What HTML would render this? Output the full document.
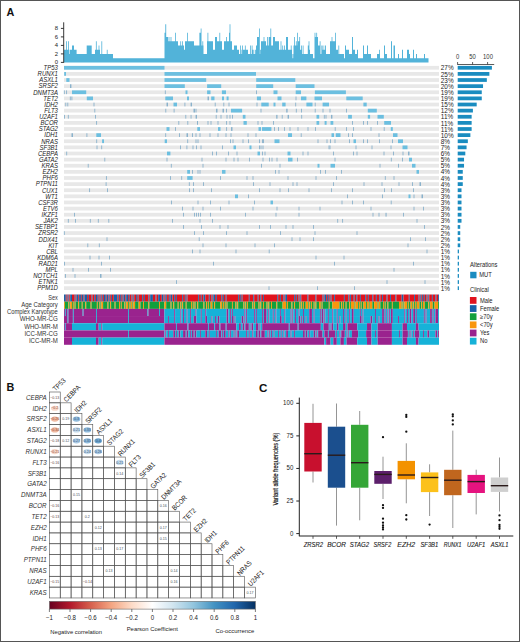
<!DOCTYPE html><html><head><meta charset="utf-8"><style>html,body{margin:0;padding:0;background:#fff;}svg{display:block;}</style></head><body>
<svg width="520" height="642" viewBox="0 0 520 642" font-family='"Liberation Sans", sans-serif'>
<rect x="0" y="0" width="520" height="642" fill="#fff"/>
<text x="6.6" y="15.6" font-size="10.8" text-anchor="start" fill="#111" font-weight="bold">A</text>
<path d="M64,62.4L64,49.65L66.1,49.65L66.1,41.15L66.9,41.15L66.9,49.65L68,49.65L68,41.15L68.8,41.15L68.8,49.65L69.4,49.65L69.4,53.9L70,53.9L70,49.65L72,49.65L72,45.4L74,45.4L74,49.65L76.6,49.65L76.6,53.9L86.7,53.9L86.7,45.4L91.7,45.4L91.7,53.9L95,53.9L95,49.65L95.9,49.65L95.9,41.15L96.7,41.15L96.7,49.65L98.6,49.65L98.6,45.4L99.4,45.4L99.4,49.65L100,49.65L100,53.9L101.4,53.9L101.4,41.15L102.2,41.15L102.2,53.9L106.8,53.9L106.8,49.65L107.6,49.65L107.6,53.9L113,53.9L113,58.15L164.5,58.15L164.5,32.65L165.3,32.65L165.3,24.15L166.2,24.15L166.2,36.9L168,36.9L168,41.15L168.6,41.15L168.6,36.9L169.4,36.9L169.4,41.15L170.6,41.15L170.6,36.9L171.4,36.9L171.4,41.15L172,41.15L172,41.15L175.2,41.15L175.2,32.65L176,32.65L176,41.15L178,41.15L178,45.4L180.3,45.4L180.3,41.15L181.1,41.15L181.1,45.4L182,45.4L182,41.15L182.8,41.15L182.8,45.4L184,45.4L184,49.65L185,49.65L185,41.15L187.1,41.15L187.1,32.65L187.9,32.65L187.9,41.15L194,41.15L194,45.4L199.4,45.4L199.4,32.65L200.7,32.65L200.7,28.4L200.9,28.4L200.9,28.4L201.5,28.4L201.5,45.4L202.4,45.4L202.4,41.15L203.2,41.15L203.2,45.4L203.5,45.4L203.5,53.9L207,53.9L207,41.15L207.5,41.15L207.5,32.65L208.3,32.65L208.3,41.15L213,41.15L213,49.65L215,49.65L215,36.9L217,36.9L217,41.15L219.4,41.15L219.4,32.65L220.2,32.65L220.2,41.15L222,41.15L222,49.65L224,49.65L224,41.15L226.2,41.15L226.2,36.9L227,36.9L227,41.15L229,41.15L229,32.65L229.6,32.65L229.6,24.15L230,24.15L230,24.15L230.4,24.15L230.4,41.15L232,41.15L232,49.65L234,49.65L234,45.4L237,45.4L237,49.65L239,49.65L239,53.9L240.1,53.9L240.1,45.4L240.9,45.4L240.9,53.9L241.5,53.9L241.5,49.65L242.1,49.65L242.1,45.4L242.3,45.4L242.3,45.4L242.9,45.4L242.9,53.9L243,53.9L243,49.65L244.9,49.65L244.9,45.4L245.7,45.4L245.7,49.65L248,49.65L248,53.9L250,53.9L250,45.4L250.8,45.4L250.8,53.9L251.7,53.9L251.7,45.4L252,45.4L252,45.4L252.5,45.4L252.5,49.65L253,49.65L253,53.9L253.4,53.9L253.4,49.65L254.2,49.65L254.2,53.9L255.1,53.9L255.1,49.65L255.9,49.65L255.9,53.9L256,53.9L256,45.4L257,45.4L257,36.9L259,36.9L259,28.4L259.8,28.4L259.8,53.9L260.2,53.9L260.2,49.65L261,49.65L261,53.9L261,53.9L261,41.15L263.6,41.15L263.6,36.9L264.4,36.9L264.4,41.15L266,41.15L266,45.4L267,45.4L267,36.9L267.8,36.9L267.8,45.4L268.7,45.4L268.7,36.9L269,36.9L269,36.9L269.5,36.9L269.5,36.9L270.4,36.9L270.4,28.4L271,28.4L271,28.4L271.2,28.4L271.2,45.4L273,45.4L273,36.9L275,36.9L275,41.15L279,41.15L279,49.65L280.6,49.65L280.6,41.15L281.4,41.15L281.4,49.65L282.3,49.65L282.3,45.4L283.1,45.4L283.1,49.65L284,49.65L284,45.4L284.8,45.4L284.8,49.65L286,49.65L286,36.9L288,36.9L288,49.65L290.8,49.65L290.8,45.4L291.6,45.4L291.6,49.65L292,49.65L292,58.15L292.5,58.15L292.5,53.9L293.3,53.9L293.3,58.15L293.5,58.15L293.5,45.4L294.2,45.4L294.2,36.9L295,36.9L295,45.4L295.9,45.4L295.9,41.15L296,41.15L296,41.15L296.7,41.15L296.7,45.4L297.1,45.4L297.1,32.65L297.9,32.65L297.9,45.4L298,45.4L298,41.15L299.3,41.15L299.3,36.9L300,36.9L300,36.9L300.1,36.9L300.1,49.65L301.1,49.65L301.1,45.4L301.9,45.4L301.9,49.65L302,49.65L302,53.9L302.7,53.9L302.7,45.4L303.5,45.4L303.5,53.9L307.8,53.9L307.8,45.4L308,45.4L308,45.4L308.6,45.4L308.6,49.65L308.6,49.65L308.6,41.15L309.4,41.15L309.4,49.65L310,49.65L310,53.9L313,53.9L313,58.15L314.5,58.15L314.5,36.9L314.6,36.9L314.6,32.65L315.4,32.65L315.4,36.9L316.3,36.9L316.3,32.65L317.1,32.65L317.1,36.9L318,36.9L318,45.4L319.7,45.4L319.7,41.15L320,41.15L320,41.15L320.5,41.15L320.5,53.9L321.4,53.9L321.4,45.4L322,45.4L322,45.4L322.2,45.4L322.2,49.65L322.6,49.65L322.6,45.4L323.4,45.4L323.4,49.65L324.8,49.65L324.8,45.4L325.1,45.4L325.1,45.4L325.6,45.4L325.6,45.4L325.9,45.4L325.9,49.65L326,49.65L326,53.9L330,53.9L330,41.15L331.6,41.15L331.6,36.9L332.4,36.9L332.4,41.15L335,41.15L335,32.65L335.8,32.65L335.8,41.15L336,41.15L336,49.65L338,49.65L338,53.9L338.4,53.9L338.4,45.4L339.2,45.4L339.2,53.9L344,53.9L344,58.15L345,58.15L345,45.4L346,45.4L346,49.65L349,49.65L349,53.9L352,53.9L352,36.9L353,36.9L353,49.65L355,49.65L355,53.9L357,53.9L357,49.65L358,49.65L358,58.15L363,58.15L363,45.4L364,45.4L364,53.9L367,53.9L367,45.4L368,45.4L368,53.9L371,53.9L371,58.15L377,58.15L377,53.9L379.1,53.9L379.1,49.65L379.9,49.65L379.9,53.9L380,53.9L380,58.15L384,58.15L384,45.4L385,45.4L385,53.9L387,53.9L387,58.15L391,58.15L391,41.15L392,41.15L392,58.15L393.5,58.15L393.5,45.4L395,45.4L395,58.15L398,58.15L398,53.9L399,53.9L399,58.15L402,58.15L402,49.65L403,49.65L403,58.15L407,58.15L407,49.65L409,49.65L409,53.9L410,53.9L410,58.15L413,58.15L413,49.65L414,49.65L414,58.15L416,58.15L416,53.9L417,53.9L417,58.15L424,58.15L424,53.9L425,53.9L425,58.15L428.5,58.15L428.5,62.4Z" fill="#52b3d9"/>
<g stroke="#222" stroke-width="0.9">
<line x1="63.7" y1="22.3" x2="63.7" y2="62.8"/>
<line x1="60.9" y1="62.4" x2="63.7" y2="62.4"/>
<line x1="60.9" y1="53.9" x2="63.7" y2="53.9"/>
<line x1="60.9" y1="45.4" x2="63.7" y2="45.4"/>
<line x1="60.9" y1="36.9" x2="63.7" y2="36.9"/>
<line x1="60.9" y1="28.4" x2="63.7" y2="28.4"/>
</g>
<text x="58" y="64" font-size="6.2" text-anchor="end" fill="#222" textLength="3.28" lengthAdjust="spacingAndGlyphs">0</text>
<text x="58" y="55.5" font-size="6.2" text-anchor="end" fill="#222" textLength="3.28" lengthAdjust="spacingAndGlyphs">2</text>
<text x="58" y="47" font-size="6.2" text-anchor="end" fill="#222" textLength="3.28" lengthAdjust="spacingAndGlyphs">4</text>
<text x="58" y="38.5" font-size="6.2" text-anchor="end" fill="#222" textLength="3.28" lengthAdjust="spacingAndGlyphs">6</text>
<text x="58" y="30" font-size="6.2" text-anchor="end" fill="#222" textLength="3.28" lengthAdjust="spacingAndGlyphs">8</text>
<g fill="#e8e8e8">
<rect x="64" y="65.9" width="375" height="3.75"/>
<rect x="64" y="72.02" width="375" height="3.75"/>
<rect x="64" y="78.14" width="375" height="3.75"/>
<rect x="64" y="84.27" width="375" height="3.75"/>
<rect x="64" y="90.39" width="375" height="3.75"/>
<rect x="64" y="96.51" width="375" height="3.75"/>
<rect x="64" y="102.63" width="375" height="3.75"/>
<rect x="64" y="108.75" width="375" height="3.75"/>
<rect x="64" y="114.88" width="375" height="3.75"/>
<rect x="64" y="121" width="375" height="3.75"/>
<rect x="64" y="127.12" width="375" height="3.75"/>
<rect x="64" y="133.24" width="375" height="3.75"/>
<rect x="64" y="139.36" width="375" height="3.75"/>
<rect x="64" y="145.49" width="375" height="3.75"/>
<rect x="64" y="151.61" width="375" height="3.75"/>
<rect x="64" y="157.73" width="375" height="3.75"/>
<rect x="64" y="163.85" width="375" height="3.75"/>
<rect x="64" y="169.97" width="375" height="3.75"/>
<rect x="64" y="176.1" width="375" height="3.75"/>
<rect x="64" y="182.22" width="375" height="3.75"/>
<rect x="64" y="188.34" width="375" height="3.75"/>
<rect x="64" y="194.46" width="375" height="3.75"/>
<rect x="64" y="200.58" width="375" height="3.75"/>
<rect x="64" y="206.71" width="375" height="3.75"/>
<rect x="64" y="212.83" width="375" height="3.75"/>
<rect x="64" y="218.95" width="375" height="3.75"/>
<rect x="64" y="225.07" width="375" height="3.75"/>
<rect x="64" y="231.19" width="375" height="3.75"/>
<rect x="64" y="237.32" width="375" height="3.75"/>
<rect x="64" y="243.44" width="375" height="3.75"/>
<rect x="64" y="249.56" width="375" height="3.75"/>
<rect x="64" y="255.68" width="375" height="3.75"/>
<rect x="64" y="261.8" width="375" height="3.75"/>
<rect x="64" y="267.93" width="375" height="3.75"/>
<rect x="64" y="274.05" width="375" height="3.75"/>
<rect x="64" y="280.17" width="375" height="3.75"/>
<rect x="64" y="286.29" width="375" height="3.75"/>
</g>
<rect x="64" y="65.9" width="100.5" height="3.75" fill="#6cbfe0"/>
<rect x="64.2" y="72.02" width="1.8" height="3.75" fill="#6cbfe0"/>
<rect x="164.5" y="72.02" width="91.5" height="3.75" fill="#6cbfe0"/>
<rect x="66.3" y="78.14" width="3.2" height="3.75" fill="#6cbfe0"/>
<rect x="164.5" y="78.14" width="41.7" height="3.75" fill="#6cbfe0"/>
<rect x="256.2" y="78.14" width="39.1" height="3.75" fill="#6cbfe0"/>
<rect x="70" y="84.27" width="1.4" height="3.75" fill="#8ab2cc"/>
<rect x="164.5" y="84.27" width="20.3" height="3.75" fill="#6cbfe0"/>
<rect x="207.1" y="84.27" width="14.1" height="3.75" fill="#6cbfe0"/>
<rect x="256.2" y="84.27" width="17" height="3.75" fill="#6cbfe0"/>
<rect x="295.7" y="84.27" width="18.8" height="3.75" fill="#6cbfe0"/>
<rect x="63.85" y="90.39" width="0.9" height="3.75" fill="#8ab2cc"/>
<rect x="66.15" y="90.39" width="0.9" height="3.75" fill="#8ab2cc"/>
<rect x="72" y="90.39" width="14.2" height="3.75" fill="#6cbfe0"/>
<rect x="164.85" y="90.39" width="0.9" height="3.75" fill="#8ab2cc"/>
<rect x="185.5" y="90.39" width="2" height="3.75" fill="#6cbfe0"/>
<rect x="207.1" y="90.39" width="3.4" height="3.75" fill="#6cbfe0"/>
<rect x="221.9" y="90.39" width="4.1" height="3.75" fill="#6cbfe0"/>
<rect x="256.05" y="90.39" width="0.9" height="3.75" fill="#8ab2cc"/>
<rect x="273.5" y="90.39" width="4" height="3.75" fill="#6cbfe0"/>
<rect x="295.7" y="90.39" width="5.3" height="3.75" fill="#6cbfe0"/>
<rect x="314.9" y="90.39" width="31" height="3.75" fill="#6cbfe0"/>
<rect x="69.85" y="96.51" width="0.9" height="3.75" fill="#8ab2cc"/>
<rect x="71.45" y="96.51" width="0.9" height="3.75" fill="#8ab2cc"/>
<rect x="86.8" y="96.51" width="6.2" height="3.75" fill="#6cbfe0"/>
<rect x="165.3" y="96.51" width="7.7" height="3.75" fill="#6cbfe0"/>
<rect x="187" y="96.51" width="2" height="3.75" fill="#6cbfe0"/>
<rect x="207.5" y="96.51" width="1.5" height="3.75" fill="#8ab2cc"/>
<rect x="211.2" y="96.51" width="3.3" height="3.75" fill="#6cbfe0"/>
<rect x="222" y="96.51" width="2" height="3.75" fill="#6cbfe0"/>
<rect x="226.6" y="96.51" width="2" height="3.75" fill="#6cbfe0"/>
<rect x="256.9" y="96.51" width="4.1" height="3.75" fill="#6cbfe0"/>
<rect x="277.5" y="96.51" width="4" height="3.75" fill="#6cbfe0"/>
<rect x="295.55" y="96.51" width="0.9" height="3.75" fill="#8ab2cc"/>
<rect x="301" y="96.51" width="5.4" height="3.75" fill="#6cbfe0"/>
<rect x="314.5" y="96.51" width="7.5" height="3.75" fill="#6cbfe0"/>
<rect x="346.3" y="96.51" width="16.4" height="3.75" fill="#6cbfe0"/>
<rect x="65.35" y="102.63" width="0.9" height="3.75" fill="#8ab2cc"/>
<rect x="67.35" y="102.63" width="0.9" height="3.75" fill="#8ab2cc"/>
<rect x="93.55" y="102.63" width="0.9" height="3.75" fill="#8ab2cc"/>
<rect x="166.5" y="102.63" width="1.5" height="3.75" fill="#8ab2cc"/>
<rect x="173.5" y="102.63" width="3.5" height="3.75" fill="#6cbfe0"/>
<rect x="184.45" y="102.63" width="0.9" height="3.75" fill="#8ab2cc"/>
<rect x="190.6" y="102.63" width="1.4" height="3.75" fill="#8ab2cc"/>
<rect x="214.75" y="102.63" width="0.9" height="3.75" fill="#8ab2cc"/>
<rect x="223.35" y="102.63" width="0.9" height="3.75" fill="#8ab2cc"/>
<rect x="228.55" y="102.63" width="0.9" height="3.75" fill="#8ab2cc"/>
<rect x="256.55" y="102.63" width="0.9" height="3.75" fill="#8ab2cc"/>
<rect x="261.3" y="102.63" width="7.4" height="3.75" fill="#6cbfe0"/>
<rect x="273.5" y="102.63" width="2" height="3.75" fill="#6cbfe0"/>
<rect x="282.2" y="102.63" width="3.4" height="3.75" fill="#6cbfe0"/>
<rect x="295.25" y="102.63" width="0.9" height="3.75" fill="#8ab2cc"/>
<rect x="306.4" y="102.63" width="6.1" height="3.75" fill="#6cbfe0"/>
<rect x="314.75" y="102.63" width="0.9" height="3.75" fill="#8ab2cc"/>
<rect x="322.6" y="102.63" width="6.4" height="3.75" fill="#6cbfe0"/>
<rect x="363.4" y="102.63" width="3.3" height="3.75" fill="#6cbfe0"/>
<rect x="94.35" y="108.75" width="0.9" height="3.75" fill="#8ab2cc"/>
<rect x="165.35" y="108.75" width="0.9" height="3.75" fill="#8ab2cc"/>
<rect x="173.65" y="108.75" width="0.9" height="3.75" fill="#8ab2cc"/>
<rect x="193.5" y="108.75" width="1.5" height="3.75" fill="#8ab2cc"/>
<rect x="195.55" y="108.75" width="0.9" height="3.75" fill="#8ab2cc"/>
<rect x="216" y="108.75" width="1.5" height="3.75" fill="#8ab2cc"/>
<rect x="222.5" y="108.75" width="1.5" height="3.75" fill="#8ab2cc"/>
<rect x="226.05" y="108.75" width="0.9" height="3.75" fill="#8ab2cc"/>
<rect x="231" y="108.75" width="11.1" height="3.75" fill="#6cbfe0"/>
<rect x="260.55" y="108.75" width="0.9" height="3.75" fill="#8ab2cc"/>
<rect x="286.2" y="108.75" width="1.4" height="3.75" fill="#8ab2cc"/>
<rect x="295.85" y="108.75" width="0.9" height="3.75" fill="#8ab2cc"/>
<rect x="301.05" y="108.75" width="0.9" height="3.75" fill="#8ab2cc"/>
<rect x="314.75" y="108.75" width="0.9" height="3.75" fill="#8ab2cc"/>
<rect x="322.55" y="108.75" width="0.9" height="3.75" fill="#8ab2cc"/>
<rect x="329.55" y="108.75" width="0.9" height="3.75" fill="#8ab2cc"/>
<rect x="346.05" y="108.75" width="0.9" height="3.75" fill="#8ab2cc"/>
<rect x="367.8" y="108.75" width="9" height="3.75" fill="#6cbfe0"/>
<rect x="64.05" y="114.88" width="0.9" height="3.75" fill="#8ab2cc"/>
<rect x="67.85" y="114.88" width="0.9" height="3.75" fill="#8ab2cc"/>
<rect x="95.05" y="114.88" width="0.9" height="3.75" fill="#8ab2cc"/>
<rect x="185.35" y="114.88" width="0.9" height="3.75" fill="#8ab2cc"/>
<rect x="190.6" y="114.88" width="0.9" height="3.75" fill="#8ab2cc"/>
<rect x="195.6" y="114.88" width="1.4" height="3.75" fill="#8ab2cc"/>
<rect x="215.75" y="114.88" width="0.9" height="3.75" fill="#8ab2cc"/>
<rect x="220.55" y="114.88" width="0.9" height="3.75" fill="#8ab2cc"/>
<rect x="226.55" y="114.88" width="0.9" height="3.75" fill="#8ab2cc"/>
<rect x="229.55" y="114.88" width="0.9" height="3.75" fill="#8ab2cc"/>
<rect x="232.05" y="114.88" width="0.9" height="3.75" fill="#8ab2cc"/>
<rect x="242.8" y="114.88" width="2.7" height="3.75" fill="#6cbfe0"/>
<rect x="276.2" y="114.88" width="1.3" height="3.75" fill="#8ab2cc"/>
<rect x="281.75" y="114.88" width="0.9" height="3.75" fill="#8ab2cc"/>
<rect x="287.6" y="114.88" width="1.4" height="3.75" fill="#8ab2cc"/>
<rect x="301.25" y="114.88" width="0.9" height="3.75" fill="#8ab2cc"/>
<rect x="316.5" y="114.88" width="2.7" height="3.75" fill="#6cbfe0"/>
<rect x="323.85" y="114.88" width="0.9" height="3.75" fill="#8ab2cc"/>
<rect x="325.55" y="114.88" width="0.9" height="3.75" fill="#8ab2cc"/>
<rect x="331" y="114.88" width="1.4" height="3.75" fill="#8ab2cc"/>
<rect x="348.1" y="114.88" width="3.8" height="3.75" fill="#6cbfe0"/>
<rect x="367.8" y="114.88" width="2.3" height="3.75" fill="#6cbfe0"/>
<rect x="377.5" y="114.88" width="6.3" height="3.75" fill="#6cbfe0"/>
<rect x="96.15" y="121" width="0.9" height="3.75" fill="#8ab2cc"/>
<rect x="178.35" y="121" width="0.9" height="3.75" fill="#8ab2cc"/>
<rect x="187.35" y="121" width="0.9" height="3.75" fill="#8ab2cc"/>
<rect x="197" y="121" width="1" height="3.75" fill="#8ab2cc"/>
<rect x="207.55" y="121" width="0.9" height="3.75" fill="#8ab2cc"/>
<rect x="210.55" y="121" width="0.9" height="3.75" fill="#8ab2cc"/>
<rect x="217.55" y="121" width="0.9" height="3.75" fill="#8ab2cc"/>
<rect x="226.15" y="121" width="0.9" height="3.75" fill="#8ab2cc"/>
<rect x="229.55" y="121" width="0.9" height="3.75" fill="#8ab2cc"/>
<rect x="243.5" y="121" width="3.3" height="3.75" fill="#6cbfe0"/>
<rect x="257.55" y="121" width="0.9" height="3.75" fill="#8ab2cc"/>
<rect x="261.55" y="121" width="0.9" height="3.75" fill="#8ab2cc"/>
<rect x="273.05" y="121" width="0.9" height="3.75" fill="#8ab2cc"/>
<rect x="316.5" y="121" width="2.7" height="3.75" fill="#6cbfe0"/>
<rect x="324.6" y="121" width="2" height="3.75" fill="#6cbfe0"/>
<rect x="330.5" y="121" width="2.8" height="3.75" fill="#6cbfe0"/>
<rect x="352.05" y="121" width="0.9" height="3.75" fill="#8ab2cc"/>
<rect x="363.05" y="121" width="0.9" height="3.75" fill="#8ab2cc"/>
<rect x="367.05" y="121" width="0.9" height="3.75" fill="#8ab2cc"/>
<rect x="377.05" y="121" width="0.9" height="3.75" fill="#8ab2cc"/>
<rect x="384.2" y="121" width="6.8" height="3.75" fill="#6cbfe0"/>
<rect x="166.5" y="127.12" width="3" height="3.75" fill="#6cbfe0"/>
<rect x="175.05" y="127.12" width="0.9" height="3.75" fill="#8ab2cc"/>
<rect x="197.3" y="127.12" width="2.7" height="3.75" fill="#6cbfe0"/>
<rect x="218" y="127.12" width="2.5" height="3.75" fill="#6cbfe0"/>
<rect x="226.15" y="127.12" width="0.9" height="3.75" fill="#8ab2cc"/>
<rect x="231" y="127.12" width="1.5" height="3.75" fill="#8ab2cc"/>
<rect x="258.5" y="127.12" width="2.5" height="3.75" fill="#6cbfe0"/>
<rect x="262" y="127.12" width="9.4" height="3.75" fill="#6cbfe0"/>
<rect x="274.05" y="127.12" width="0.9" height="3.75" fill="#8ab2cc"/>
<rect x="278.05" y="127.12" width="0.9" height="3.75" fill="#8ab2cc"/>
<rect x="284.05" y="127.12" width="0.9" height="3.75" fill="#8ab2cc"/>
<rect x="289.55" y="127.12" width="0.9" height="3.75" fill="#8ab2cc"/>
<rect x="297.55" y="127.12" width="0.9" height="3.75" fill="#8ab2cc"/>
<rect x="307.55" y="127.12" width="0.9" height="3.75" fill="#8ab2cc"/>
<rect x="315.05" y="127.12" width="0.9" height="3.75" fill="#8ab2cc"/>
<rect x="334.75" y="127.12" width="0.9" height="3.75" fill="#8ab2cc"/>
<rect x="346.05" y="127.12" width="0.9" height="3.75" fill="#8ab2cc"/>
<rect x="353.05" y="127.12" width="0.9" height="3.75" fill="#8ab2cc"/>
<rect x="370.55" y="127.12" width="0.9" height="3.75" fill="#8ab2cc"/>
<rect x="383.75" y="127.12" width="0.9" height="3.75" fill="#8ab2cc"/>
<rect x="390.8" y="127.12" width="2" height="3.75" fill="#6cbfe0"/>
<rect x="71.5" y="133.24" width="1.5" height="3.75" fill="#8ab2cc"/>
<rect x="86.45" y="133.24" width="0.9" height="3.75" fill="#8ab2cc"/>
<rect x="96.3" y="133.24" width="4.7" height="3.75" fill="#6cbfe0"/>
<rect x="165.25" y="133.24" width="0.9" height="3.75" fill="#8ab2cc"/>
<rect x="179.05" y="133.24" width="0.9" height="3.75" fill="#8ab2cc"/>
<rect x="186.5" y="133.24" width="1.5" height="3.75" fill="#8ab2cc"/>
<rect x="192.05" y="133.24" width="0.9" height="3.75" fill="#8ab2cc"/>
<rect x="195.55" y="133.24" width="0.9" height="3.75" fill="#8ab2cc"/>
<rect x="199.55" y="133.24" width="0.9" height="3.75" fill="#8ab2cc"/>
<rect x="209.55" y="133.24" width="0.9" height="3.75" fill="#8ab2cc"/>
<rect x="217.55" y="133.24" width="0.9" height="3.75" fill="#8ab2cc"/>
<rect x="225.55" y="133.24" width="0.9" height="3.75" fill="#8ab2cc"/>
<rect x="230.55" y="133.24" width="0.9" height="3.75" fill="#8ab2cc"/>
<rect x="247.55" y="133.24" width="0.9" height="3.75" fill="#8ab2cc"/>
<rect x="255.55" y="133.24" width="0.9" height="3.75" fill="#8ab2cc"/>
<rect x="288" y="133.24" width="4" height="3.75" fill="#6cbfe0"/>
<rect x="300.75" y="133.24" width="0.9" height="3.75" fill="#8ab2cc"/>
<rect x="331.5" y="133.24" width="2.5" height="3.75" fill="#6cbfe0"/>
<rect x="335.8" y="133.24" width="4.7" height="3.75" fill="#6cbfe0"/>
<rect x="348.05" y="133.24" width="0.9" height="3.75" fill="#8ab2cc"/>
<rect x="352.05" y="133.24" width="0.9" height="3.75" fill="#8ab2cc"/>
<rect x="378.55" y="133.24" width="0.9" height="3.75" fill="#8ab2cc"/>
<rect x="393" y="133.24" width="4.5" height="3.75" fill="#6cbfe0"/>
<rect x="96.25" y="139.36" width="0.9" height="3.75" fill="#8ab2cc"/>
<rect x="102.1" y="139.36" width="1.9" height="3.75" fill="#6cbfe0"/>
<rect x="164.7" y="139.36" width="2.3" height="3.75" fill="#6cbfe0"/>
<rect x="187.25" y="139.36" width="0.9" height="3.75" fill="#8ab2cc"/>
<rect x="195.55" y="139.36" width="0.9" height="3.75" fill="#8ab2cc"/>
<rect x="197.55" y="139.36" width="0.9" height="3.75" fill="#8ab2cc"/>
<rect x="230.05" y="139.36" width="0.9" height="3.75" fill="#8ab2cc"/>
<rect x="232.55" y="139.36" width="0.9" height="3.75" fill="#8ab2cc"/>
<rect x="242.55" y="139.36" width="0.9" height="3.75" fill="#8ab2cc"/>
<rect x="248.05" y="139.36" width="0.9" height="3.75" fill="#8ab2cc"/>
<rect x="259.05" y="139.36" width="0.9" height="3.75" fill="#8ab2cc"/>
<rect x="262.05" y="139.36" width="0.9" height="3.75" fill="#8ab2cc"/>
<rect x="263.05" y="139.36" width="0.9" height="3.75" fill="#8ab2cc"/>
<rect x="274.5" y="139.36" width="5" height="3.75" fill="#6cbfe0"/>
<rect x="317.55" y="139.36" width="0.9" height="3.75" fill="#8ab2cc"/>
<rect x="326.55" y="139.36" width="0.9" height="3.75" fill="#8ab2cc"/>
<rect x="330.05" y="139.36" width="0.9" height="3.75" fill="#8ab2cc"/>
<rect x="334.55" y="139.36" width="0.9" height="3.75" fill="#8ab2cc"/>
<rect x="349.05" y="139.36" width="0.9" height="3.75" fill="#8ab2cc"/>
<rect x="353.5" y="139.36" width="2.5" height="3.75" fill="#6cbfe0"/>
<rect x="363.05" y="139.36" width="0.9" height="3.75" fill="#8ab2cc"/>
<rect x="367.05" y="139.36" width="0.9" height="3.75" fill="#8ab2cc"/>
<rect x="379.05" y="139.36" width="0.9" height="3.75" fill="#8ab2cc"/>
<rect x="392.05" y="139.36" width="0.9" height="3.75" fill="#8ab2cc"/>
<rect x="398" y="139.36" width="5" height="3.75" fill="#6cbfe0"/>
<rect x="96.55" y="145.49" width="0.9" height="3.75" fill="#8ab2cc"/>
<rect x="101.25" y="145.49" width="0.9" height="3.75" fill="#8ab2cc"/>
<rect x="180.05" y="145.49" width="0.9" height="3.75" fill="#8ab2cc"/>
<rect x="186.45" y="145.49" width="0.9" height="3.75" fill="#8ab2cc"/>
<rect x="192.55" y="145.49" width="0.9" height="3.75" fill="#8ab2cc"/>
<rect x="196.05" y="145.49" width="0.9" height="3.75" fill="#8ab2cc"/>
<rect x="200.55" y="145.49" width="0.9" height="3.75" fill="#8ab2cc"/>
<rect x="222.05" y="145.49" width="0.9" height="3.75" fill="#8ab2cc"/>
<rect x="233.5" y="145.49" width="2.5" height="3.75" fill="#6cbfe0"/>
<rect x="249.5" y="145.49" width="2" height="3.75" fill="#6cbfe0"/>
<rect x="259.05" y="145.49" width="0.9" height="3.75" fill="#8ab2cc"/>
<rect x="260.55" y="145.49" width="0.9" height="3.75" fill="#8ab2cc"/>
<rect x="262.55" y="145.49" width="0.9" height="3.75" fill="#8ab2cc"/>
<rect x="328.55" y="145.49" width="0.9" height="3.75" fill="#8ab2cc"/>
<rect x="329.55" y="145.49" width="0.9" height="3.75" fill="#8ab2cc"/>
<rect x="355.55" y="145.49" width="0.9" height="3.75" fill="#8ab2cc"/>
<rect x="371.55" y="145.49" width="0.9" height="3.75" fill="#8ab2cc"/>
<rect x="390.55" y="145.49" width="0.9" height="3.75" fill="#8ab2cc"/>
<rect x="402.5" y="145.49" width="5" height="3.75" fill="#6cbfe0"/>
<rect x="66.25" y="151.61" width="0.9" height="3.75" fill="#8ab2cc"/>
<rect x="167" y="151.61" width="3.4" height="3.75" fill="#6cbfe0"/>
<rect x="212.05" y="151.61" width="0.9" height="3.75" fill="#8ab2cc"/>
<rect x="216.05" y="151.61" width="0.9" height="3.75" fill="#8ab2cc"/>
<rect x="228.05" y="151.61" width="0.9" height="3.75" fill="#8ab2cc"/>
<rect x="236.55" y="151.61" width="0.9" height="3.75" fill="#8ab2cc"/>
<rect x="257.5" y="151.61" width="2.5" height="3.75" fill="#6cbfe0"/>
<rect x="262.05" y="151.61" width="0.9" height="3.75" fill="#8ab2cc"/>
<rect x="264.55" y="151.61" width="0.9" height="3.75" fill="#8ab2cc"/>
<rect x="287.5" y="151.61" width="3" height="3.75" fill="#6cbfe0"/>
<rect x="302.55" y="151.61" width="0.9" height="3.75" fill="#8ab2cc"/>
<rect x="307.55" y="151.61" width="0.9" height="3.75" fill="#8ab2cc"/>
<rect x="333.05" y="151.61" width="0.9" height="3.75" fill="#8ab2cc"/>
<rect x="353.05" y="151.61" width="0.9" height="3.75" fill="#8ab2cc"/>
<rect x="356.55" y="151.61" width="0.9" height="3.75" fill="#8ab2cc"/>
<rect x="383.55" y="151.61" width="0.9" height="3.75" fill="#8ab2cc"/>
<rect x="393.05" y="151.61" width="0.9" height="3.75" fill="#8ab2cc"/>
<rect x="402.55" y="151.61" width="0.9" height="3.75" fill="#8ab2cc"/>
<rect x="408" y="151.61" width="1.5" height="3.75" fill="#8ab2cc"/>
<rect x="104.35" y="157.73" width="0.9" height="3.75" fill="#8ab2cc"/>
<rect x="166.55" y="157.73" width="0.9" height="3.75" fill="#8ab2cc"/>
<rect x="201.55" y="157.73" width="0.9" height="3.75" fill="#8ab2cc"/>
<rect x="225.55" y="157.73" width="0.9" height="3.75" fill="#8ab2cc"/>
<rect x="233.55" y="157.73" width="0.9" height="3.75" fill="#8ab2cc"/>
<rect x="237.55" y="157.73" width="0.9" height="3.75" fill="#8ab2cc"/>
<rect x="249.05" y="157.73" width="0.9" height="3.75" fill="#8ab2cc"/>
<rect x="262.55" y="157.73" width="0.9" height="3.75" fill="#8ab2cc"/>
<rect x="269.05" y="157.73" width="0.9" height="3.75" fill="#8ab2cc"/>
<rect x="271.55" y="157.73" width="0.9" height="3.75" fill="#8ab2cc"/>
<rect x="276.55" y="157.73" width="0.9" height="3.75" fill="#8ab2cc"/>
<rect x="288" y="157.73" width="4.5" height="3.75" fill="#6cbfe0"/>
<rect x="297.05" y="157.73" width="0.9" height="3.75" fill="#8ab2cc"/>
<rect x="334.55" y="157.73" width="0.9" height="3.75" fill="#8ab2cc"/>
<rect x="390.85" y="157.73" width="0.9" height="3.75" fill="#8ab2cc"/>
<rect x="402.05" y="157.73" width="0.9" height="3.75" fill="#8ab2cc"/>
<rect x="409" y="157.73" width="3" height="3.75" fill="#6cbfe0"/>
<rect x="87.75" y="163.85" width="0.9" height="3.75" fill="#8ab2cc"/>
<rect x="170.85" y="163.85" width="0.9" height="3.75" fill="#8ab2cc"/>
<rect x="202.55" y="163.85" width="0.9" height="3.75" fill="#8ab2cc"/>
<rect x="261.05" y="163.85" width="0.9" height="3.75" fill="#8ab2cc"/>
<rect x="279.55" y="163.85" width="0.9" height="3.75" fill="#8ab2cc"/>
<rect x="317.5" y="163.85" width="2" height="3.75" fill="#6cbfe0"/>
<rect x="330.5" y="163.85" width="4.5" height="3.75" fill="#6cbfe0"/>
<rect x="379.55" y="163.85" width="0.9" height="3.75" fill="#8ab2cc"/>
<rect x="398.05" y="163.85" width="0.9" height="3.75" fill="#8ab2cc"/>
<rect x="412" y="163.85" width="3.5" height="3.75" fill="#6cbfe0"/>
<rect x="187.2" y="169.97" width="2.8" height="3.75" fill="#6cbfe0"/>
<rect x="192.05" y="169.97" width="0.9" height="3.75" fill="#8ab2cc"/>
<rect x="197.55" y="169.97" width="0.9" height="3.75" fill="#8ab2cc"/>
<rect x="199.55" y="169.97" width="0.9" height="3.75" fill="#8ab2cc"/>
<rect x="222" y="169.97" width="3.5" height="3.75" fill="#6cbfe0"/>
<rect x="275.05" y="169.97" width="0.9" height="3.75" fill="#8ab2cc"/>
<rect x="278.55" y="169.97" width="0.9" height="3.75" fill="#8ab2cc"/>
<rect x="320.05" y="169.97" width="0.9" height="3.75" fill="#8ab2cc"/>
<rect x="325.05" y="169.97" width="0.9" height="3.75" fill="#8ab2cc"/>
<rect x="341.05" y="169.97" width="0.9" height="3.75" fill="#8ab2cc"/>
<rect x="416.5" y="169.97" width="2.5" height="3.75" fill="#6cbfe0"/>
<rect x="105.95" y="176.1" width="0.9" height="3.75" fill="#8ab2cc"/>
<rect x="170.05" y="176.1" width="0.9" height="3.75" fill="#8ab2cc"/>
<rect x="181.25" y="176.1" width="0.9" height="3.75" fill="#8ab2cc"/>
<rect x="187.2" y="176.1" width="5.4" height="3.75" fill="#6cbfe0"/>
<rect x="220.05" y="176.1" width="0.9" height="3.75" fill="#8ab2cc"/>
<rect x="246.55" y="176.1" width="0.9" height="3.75" fill="#8ab2cc"/>
<rect x="252.55" y="176.1" width="0.9" height="3.75" fill="#8ab2cc"/>
<rect x="287.55" y="176.1" width="0.9" height="3.75" fill="#8ab2cc"/>
<rect x="315.55" y="176.1" width="0.9" height="3.75" fill="#8ab2cc"/>
<rect x="336.05" y="176.1" width="0.9" height="3.75" fill="#8ab2cc"/>
<rect x="384.85" y="176.1" width="0.9" height="3.75" fill="#8ab2cc"/>
<rect x="393.55" y="176.1" width="0.9" height="3.75" fill="#8ab2cc"/>
<rect x="105.65" y="182.22" width="0.9" height="3.75" fill="#8ab2cc"/>
<rect x="188.85" y="182.22" width="0.9" height="3.75" fill="#8ab2cc"/>
<rect x="193.05" y="182.22" width="0.9" height="3.75" fill="#8ab2cc"/>
<rect x="203.05" y="182.22" width="0.9" height="3.75" fill="#8ab2cc"/>
<rect x="253.05" y="182.22" width="0.9" height="3.75" fill="#8ab2cc"/>
<rect x="269.55" y="182.22" width="0.9" height="3.75" fill="#8ab2cc"/>
<rect x="292.55" y="182.22" width="0.9" height="3.75" fill="#8ab2cc"/>
<rect x="296.55" y="182.22" width="0.9" height="3.75" fill="#8ab2cc"/>
<rect x="333.05" y="182.22" width="0.9" height="3.75" fill="#8ab2cc"/>
<rect x="363.55" y="182.22" width="0.9" height="3.75" fill="#8ab2cc"/>
<rect x="381.55" y="182.22" width="0.9" height="3.75" fill="#8ab2cc"/>
<rect x="398.55" y="182.22" width="0.9" height="3.75" fill="#8ab2cc"/>
<rect x="412.05" y="182.22" width="0.9" height="3.75" fill="#8ab2cc"/>
<rect x="419.5" y="182.22" width="1.5" height="3.75" fill="#8ab2cc"/>
<rect x="89.15" y="188.34" width="0.9" height="3.75" fill="#8ab2cc"/>
<rect x="107.05" y="188.34" width="0.9" height="3.75" fill="#8ab2cc"/>
<rect x="189.05" y="188.34" width="0.9" height="3.75" fill="#8ab2cc"/>
<rect x="193.05" y="188.34" width="0.9" height="3.75" fill="#8ab2cc"/>
<rect x="211.05" y="188.34" width="0.9" height="3.75" fill="#8ab2cc"/>
<rect x="259.05" y="188.34" width="0.9" height="3.75" fill="#8ab2cc"/>
<rect x="279.55" y="188.34" width="0.9" height="3.75" fill="#8ab2cc"/>
<rect x="288.05" y="188.34" width="0.9" height="3.75" fill="#8ab2cc"/>
<rect x="308.55" y="188.34" width="0.9" height="3.75" fill="#8ab2cc"/>
<rect x="331.05" y="188.34" width="0.9" height="3.75" fill="#8ab2cc"/>
<rect x="352.05" y="188.34" width="0.9" height="3.75" fill="#8ab2cc"/>
<rect x="384.05" y="188.34" width="0.9" height="3.75" fill="#8ab2cc"/>
<rect x="391.05" y="188.34" width="0.9" height="3.75" fill="#8ab2cc"/>
<rect x="413.05" y="188.34" width="0.9" height="3.75" fill="#8ab2cc"/>
<rect x="235" y="194.46" width="3" height="3.75" fill="#6cbfe0"/>
<rect x="248.05" y="194.46" width="0.9" height="3.75" fill="#8ab2cc"/>
<rect x="347.05" y="194.46" width="0.9" height="3.75" fill="#8ab2cc"/>
<rect x="382.05" y="194.46" width="0.9" height="3.75" fill="#8ab2cc"/>
<rect x="408.5" y="194.46" width="2" height="3.75" fill="#6cbfe0"/>
<rect x="413.55" y="194.46" width="0.9" height="3.75" fill="#8ab2cc"/>
<rect x="421.5" y="194.46" width="1.5" height="3.75" fill="#8ab2cc"/>
<rect x="171.05" y="200.58" width="0.9" height="3.75" fill="#8ab2cc"/>
<rect x="197.55" y="200.58" width="0.9" height="3.75" fill="#8ab2cc"/>
<rect x="210.05" y="200.58" width="0.9" height="3.75" fill="#8ab2cc"/>
<rect x="228.55" y="200.58" width="0.9" height="3.75" fill="#8ab2cc"/>
<rect x="254.05" y="200.58" width="0.9" height="3.75" fill="#8ab2cc"/>
<rect x="270.5" y="200.58" width="2.5" height="3.75" fill="#6cbfe0"/>
<rect x="341.55" y="200.58" width="0.9" height="3.75" fill="#8ab2cc"/>
<rect x="352.05" y="200.58" width="0.9" height="3.75" fill="#8ab2cc"/>
<rect x="363.05" y="200.58" width="0.9" height="3.75" fill="#8ab2cc"/>
<rect x="390.75" y="200.58" width="0.9" height="3.75" fill="#8ab2cc"/>
<rect x="182.05" y="206.71" width="0.9" height="3.75" fill="#8ab2cc"/>
<rect x="192.55" y="206.71" width="0.9" height="3.75" fill="#8ab2cc"/>
<rect x="202.55" y="206.71" width="0.9" height="3.75" fill="#8ab2cc"/>
<rect x="220.05" y="206.71" width="0.9" height="3.75" fill="#8ab2cc"/>
<rect x="252.55" y="206.71" width="0.9" height="3.75" fill="#8ab2cc"/>
<rect x="276.55" y="206.71" width="0.9" height="3.75" fill="#8ab2cc"/>
<rect x="298.55" y="206.71" width="0.9" height="3.75" fill="#8ab2cc"/>
<rect x="319.55" y="206.71" width="0.9" height="3.75" fill="#8ab2cc"/>
<rect x="370.55" y="206.71" width="0.9" height="3.75" fill="#8ab2cc"/>
<rect x="413.55" y="206.71" width="0.9" height="3.75" fill="#8ab2cc"/>
<rect x="423.05" y="206.71" width="0.9" height="3.75" fill="#8ab2cc"/>
<rect x="74.05" y="212.83" width="0.9" height="3.75" fill="#8ab2cc"/>
<rect x="183.05" y="212.83" width="0.9" height="3.75" fill="#8ab2cc"/>
<rect x="194.05" y="212.83" width="0.9" height="3.75" fill="#8ab2cc"/>
<rect x="196.05" y="212.83" width="0.9" height="3.75" fill="#8ab2cc"/>
<rect x="198.05" y="212.83" width="0.9" height="3.75" fill="#8ab2cc"/>
<rect x="200.05" y="212.83" width="0.9" height="3.75" fill="#8ab2cc"/>
<rect x="210.05" y="212.83" width="0.9" height="3.75" fill="#8ab2cc"/>
<rect x="245.05" y="212.83" width="0.9" height="3.75" fill="#8ab2cc"/>
<rect x="275.55" y="212.83" width="0.9" height="3.75" fill="#8ab2cc"/>
<rect x="298.55" y="212.83" width="0.9" height="3.75" fill="#8ab2cc"/>
<rect x="372.55" y="212.83" width="0.9" height="3.75" fill="#8ab2cc"/>
<rect x="378.55" y="212.83" width="0.9" height="3.75" fill="#8ab2cc"/>
<rect x="385.5" y="212.83" width="1.1" height="3.75" fill="#8ab2cc"/>
<rect x="403.05" y="212.83" width="0.9" height="3.75" fill="#8ab2cc"/>
<rect x="67.85" y="218.95" width="0.9" height="3.75" fill="#8ab2cc"/>
<rect x="75.05" y="218.95" width="0.9" height="3.75" fill="#8ab2cc"/>
<rect x="89.85" y="218.95" width="0.9" height="3.75" fill="#8ab2cc"/>
<rect x="97.85" y="218.95" width="0.9" height="3.75" fill="#8ab2cc"/>
<rect x="108.35" y="218.95" width="0.9" height="3.75" fill="#8ab2cc"/>
<rect x="172.05" y="218.95" width="0.9" height="3.75" fill="#8ab2cc"/>
<rect x="199.55" y="218.95" width="0.9" height="3.75" fill="#8ab2cc"/>
<rect x="212.05" y="218.95" width="0.9" height="3.75" fill="#8ab2cc"/>
<rect x="337.25" y="218.95" width="0.9" height="3.75" fill="#8ab2cc"/>
<rect x="342.15" y="218.95" width="0.9" height="3.75" fill="#8ab2cc"/>
<rect x="416.55" y="218.95" width="0.9" height="3.75" fill="#8ab2cc"/>
<rect x="183.05" y="225.07" width="0.9" height="3.75" fill="#8ab2cc"/>
<rect x="201.05" y="225.07" width="0.9" height="3.75" fill="#8ab2cc"/>
<rect x="219.55" y="225.07" width="0.9" height="3.75" fill="#8ab2cc"/>
<rect x="227.55" y="225.07" width="0.9" height="3.75" fill="#8ab2cc"/>
<rect x="259.05" y="225.07" width="0.9" height="3.75" fill="#8ab2cc"/>
<rect x="270.05" y="225.07" width="0.9" height="3.75" fill="#8ab2cc"/>
<rect x="285.55" y="225.07" width="0.9" height="3.75" fill="#8ab2cc"/>
<rect x="292.55" y="225.07" width="0.9" height="3.75" fill="#8ab2cc"/>
<rect x="313.05" y="225.07" width="0.9" height="3.75" fill="#8ab2cc"/>
<rect x="424.05" y="225.07" width="0.9" height="3.75" fill="#8ab2cc"/>
<rect x="63.85" y="231.19" width="0.9" height="3.75" fill="#8ab2cc"/>
<rect x="194.05" y="231.19" width="0.9" height="3.75" fill="#8ab2cc"/>
<rect x="203.05" y="231.19" width="0.9" height="3.75" fill="#8ab2cc"/>
<rect x="226.05" y="231.19" width="0.9" height="3.75" fill="#8ab2cc"/>
<rect x="246.55" y="231.19" width="0.9" height="3.75" fill="#8ab2cc"/>
<rect x="280.05" y="231.19" width="0.9" height="3.75" fill="#8ab2cc"/>
<rect x="314.55" y="231.19" width="0.9" height="3.75" fill="#8ab2cc"/>
<rect x="356.55" y="231.19" width="0.9" height="3.75" fill="#8ab2cc"/>
<rect x="106.55" y="237.32" width="0.9" height="3.75" fill="#8ab2cc"/>
<rect x="198.75" y="237.32" width="0.9" height="3.75" fill="#8ab2cc"/>
<rect x="291.55" y="237.32" width="0.9" height="3.75" fill="#8ab2cc"/>
<rect x="299.55" y="237.32" width="0.9" height="3.75" fill="#8ab2cc"/>
<rect x="313.05" y="237.32" width="0.9" height="3.75" fill="#8ab2cc"/>
<rect x="410.05" y="237.32" width="0.9" height="3.75" fill="#8ab2cc"/>
<rect x="425.05" y="237.32" width="0.9" height="3.75" fill="#8ab2cc"/>
<rect x="87.35" y="243.44" width="0.9" height="3.75" fill="#8ab2cc"/>
<rect x="98.85" y="243.44" width="0.9" height="3.75" fill="#8ab2cc"/>
<rect x="202.55" y="243.44" width="0.9" height="3.75" fill="#8ab2cc"/>
<rect x="225.55" y="243.44" width="0.9" height="3.75" fill="#8ab2cc"/>
<rect x="254.55" y="243.44" width="0.9" height="3.75" fill="#8ab2cc"/>
<rect x="274.05" y="243.44" width="0.9" height="3.75" fill="#8ab2cc"/>
<rect x="407.55" y="243.44" width="0.9" height="3.75" fill="#8ab2cc"/>
<rect x="192.05" y="249.56" width="0.9" height="3.75" fill="#8ab2cc"/>
<rect x="199.55" y="249.56" width="0.9" height="3.75" fill="#8ab2cc"/>
<rect x="235.55" y="249.56" width="0.9" height="3.75" fill="#8ab2cc"/>
<rect x="268.75" y="249.56" width="0.9" height="3.75" fill="#8ab2cc"/>
<rect x="426.55" y="249.56" width="0.9" height="3.75" fill="#8ab2cc"/>
<rect x="89.5" y="255.68" width="1" height="3.75" fill="#8ab2cc"/>
<rect x="98.55" y="255.68" width="0.9" height="3.75" fill="#8ab2cc"/>
<rect x="109.05" y="255.68" width="0.9" height="3.75" fill="#8ab2cc"/>
<rect x="315.55" y="255.68" width="0.9" height="3.75" fill="#8ab2cc"/>
<rect x="343.55" y="255.68" width="0.9" height="3.75" fill="#8ab2cc"/>
<rect x="64.05" y="261.8" width="0.9" height="3.75" fill="#8ab2cc"/>
<rect x="101.05" y="261.8" width="0.9" height="3.75" fill="#8ab2cc"/>
<rect x="213.05" y="261.8" width="0.9" height="3.75" fill="#8ab2cc"/>
<rect x="334.05" y="261.8" width="0.9" height="3.75" fill="#8ab2cc"/>
<rect x="413.05" y="261.8" width="0.9" height="3.75" fill="#8ab2cc"/>
<rect x="72.55" y="267.93" width="0.9" height="3.75" fill="#8ab2cc"/>
<rect x="88.05" y="267.93" width="0.9" height="3.75" fill="#8ab2cc"/>
<rect x="110.05" y="267.93" width="0.9" height="3.75" fill="#8ab2cc"/>
<rect x="393.55" y="267.93" width="0.9" height="3.75" fill="#8ab2cc"/>
<rect x="65.05" y="274.05" width="0.9" height="3.75" fill="#8ab2cc"/>
<rect x="74.55" y="274.05" width="0.9" height="3.75" fill="#8ab2cc"/>
<rect x="100" y="274.05" width="1.5" height="3.75" fill="#8ab2cc"/>
<rect x="176.05" y="280.17" width="0.9" height="3.75" fill="#8ab2cc"/>
<rect x="386.55" y="280.17" width="0.9" height="3.75" fill="#8ab2cc"/>
<rect x="424.55" y="280.17" width="0.9" height="3.75" fill="#8ab2cc"/>
<rect x="268.55" y="286.29" width="0.9" height="3.75" fill="#8ab2cc"/>
<rect x="317.05" y="286.29" width="0.9" height="3.75" fill="#8ab2cc"/>
<rect x="354.05" y="286.29" width="0.9" height="3.75" fill="#8ab2cc"/>
<text x="57.9" y="70.1" font-size="6.7" text-anchor="end" fill="#222" font-style="italic" textLength="14.34" lengthAdjust="spacingAndGlyphs">TP53</text>
<text x="57.9" y="76.22" font-size="6.7" text-anchor="end" fill="#222" font-style="italic" textLength="20.34" lengthAdjust="spacingAndGlyphs">RUNX1</text>
<text x="57.9" y="82.34" font-size="6.7" text-anchor="end" fill="#222" font-style="italic" textLength="18.68" lengthAdjust="spacingAndGlyphs">ASXL1</text>
<text x="57.9" y="88.47" font-size="6.7" text-anchor="end" fill="#222" font-style="italic" textLength="19.34" lengthAdjust="spacingAndGlyphs">SRSF2</text>
<text x="57.9" y="94.59" font-size="6.7" text-anchor="end" fill="#222" font-style="italic" textLength="24.67" lengthAdjust="spacingAndGlyphs">DNMT3A</text>
<text x="57.9" y="100.71" font-size="6.7" text-anchor="end" fill="#222" font-style="italic" textLength="14.67" lengthAdjust="spacingAndGlyphs">TET2</text>
<text x="57.9" y="106.83" font-size="6.7" text-anchor="end" fill="#222" font-style="italic" textLength="13.67" lengthAdjust="spacingAndGlyphs">IDH2</text>
<text x="57.9" y="112.95" font-size="6.7" text-anchor="end" fill="#222" font-style="italic" textLength="13.56" lengthAdjust="spacingAndGlyphs">FLT3</text>
<text x="57.9" y="119.08" font-size="6.7" text-anchor="end" fill="#222" font-style="italic" textLength="18.67" lengthAdjust="spacingAndGlyphs">U2AF1</text>
<text x="57.9" y="125.2" font-size="6.7" text-anchor="end" fill="#222" font-style="italic" textLength="17.34" lengthAdjust="spacingAndGlyphs">BCOR</text>
<text x="57.9" y="131.32" font-size="6.7" text-anchor="end" fill="#222" font-style="italic" textLength="19.23" lengthAdjust="spacingAndGlyphs">STAG2</text>
<text x="57.9" y="137.44" font-size="6.7" text-anchor="end" fill="#222" font-style="italic" textLength="13.67" lengthAdjust="spacingAndGlyphs">IDH1</text>
<text x="57.9" y="143.56" font-size="6.7" text-anchor="end" fill="#222" font-style="italic" textLength="16.67" lengthAdjust="spacingAndGlyphs">NRAS</text>
<text x="57.9" y="149.69" font-size="6.7" text-anchor="end" fill="#222" font-style="italic" textLength="18.34" lengthAdjust="spacingAndGlyphs">SF3B1</text>
<text x="57.9" y="155.81" font-size="6.7" text-anchor="end" fill="#222" font-style="italic" textLength="19.9" lengthAdjust="spacingAndGlyphs">CEBPA</text>
<text x="57.9" y="161.93" font-size="6.7" text-anchor="end" fill="#222" font-style="italic" textLength="18.78" lengthAdjust="spacingAndGlyphs">GATA2</text>
<text x="57.9" y="168.05" font-size="6.7" text-anchor="end" fill="#222" font-style="italic" textLength="16.34" lengthAdjust="spacingAndGlyphs">KRAS</text>
<text x="57.9" y="174.17" font-size="6.7" text-anchor="end" fill="#222" font-style="italic" textLength="15.34" lengthAdjust="spacingAndGlyphs">EZH2</text>
<text x="57.9" y="180.3" font-size="6.7" text-anchor="end" fill="#222" font-style="italic" textLength="15.34" lengthAdjust="spacingAndGlyphs">PHF6</text>
<text x="57.9" y="186.42" font-size="6.7" text-anchor="end" fill="#222" font-style="italic" textLength="22.23" lengthAdjust="spacingAndGlyphs">PTPN11</text>
<text x="57.9" y="192.54" font-size="6.7" text-anchor="end" fill="#222" font-style="italic" textLength="16" lengthAdjust="spacingAndGlyphs">CUX1</text>
<text x="57.9" y="198.66" font-size="6.7" text-anchor="end" fill="#222" font-style="italic" textLength="12.66" lengthAdjust="spacingAndGlyphs">WT1</text>
<text x="57.9" y="204.78" font-size="6.7" text-anchor="end" fill="#222" font-style="italic" textLength="19.67" lengthAdjust="spacingAndGlyphs">CSF3R</text>
<text x="57.9" y="210.91" font-size="6.7" text-anchor="end" fill="#222" font-style="italic" textLength="15.01" lengthAdjust="spacingAndGlyphs">ETV6</text>
<text x="57.9" y="217.03" font-size="6.7" text-anchor="end" fill="#222" font-style="italic" textLength="16.34" lengthAdjust="spacingAndGlyphs">IKZF1</text>
<text x="57.9" y="223.15" font-size="6.7" text-anchor="end" fill="#222" font-style="italic" textLength="14.34" lengthAdjust="spacingAndGlyphs">JAK2</text>
<text x="57.9" y="229.27" font-size="6.7" text-anchor="end" fill="#222" font-style="italic" textLength="23.01" lengthAdjust="spacingAndGlyphs">SETBP1</text>
<text x="57.9" y="235.39" font-size="6.7" text-anchor="end" fill="#222" font-style="italic" textLength="19.67" lengthAdjust="spacingAndGlyphs">ZRSR2</text>
<text x="57.9" y="241.52" font-size="6.7" text-anchor="end" fill="#222" font-style="italic" textLength="19.34" lengthAdjust="spacingAndGlyphs">DDX41</text>
<text x="57.9" y="247.64" font-size="6.7" text-anchor="end" fill="#222" font-style="italic" textLength="9.33" lengthAdjust="spacingAndGlyphs">KIT</text>
<text x="57.9" y="253.76" font-size="6.7" text-anchor="end" fill="#222" font-style="italic" textLength="11.67" lengthAdjust="spacingAndGlyphs">CBL</text>
<text x="57.9" y="259.88" font-size="6.7" text-anchor="end" fill="#222" font-style="italic" textLength="20.67" lengthAdjust="spacingAndGlyphs">KDM6A</text>
<text x="57.9" y="266" font-size="6.7" text-anchor="end" fill="#222" font-style="italic" textLength="19.34" lengthAdjust="spacingAndGlyphs">RAD21</text>
<text x="57.9" y="272.13" font-size="6.7" text-anchor="end" fill="#222" font-style="italic" textLength="12.34" lengthAdjust="spacingAndGlyphs">MPL</text>
<text x="57.9" y="278.25" font-size="6.7" text-anchor="end" fill="#222" font-style="italic" textLength="24.67" lengthAdjust="spacingAndGlyphs">NOTCH1</text>
<text x="57.9" y="284.37" font-size="6.7" text-anchor="end" fill="#222" font-style="italic" textLength="19.34" lengthAdjust="spacingAndGlyphs">ETNK1</text>
<text x="57.9" y="290.49" font-size="6.7" text-anchor="end" fill="#222" font-style="italic" textLength="20.67" lengthAdjust="spacingAndGlyphs">PPM1D</text>
<text x="440.8" y="70.4" font-size="6.9" text-anchor="start" fill="#222" textLength="12.81" lengthAdjust="spacingAndGlyphs">27%</text>
<text x="440.8" y="76.52" font-size="6.9" text-anchor="start" fill="#222" textLength="12.81" lengthAdjust="spacingAndGlyphs">25%</text>
<text x="440.8" y="82.64" font-size="6.9" text-anchor="start" fill="#222" textLength="12.81" lengthAdjust="spacingAndGlyphs">23%</text>
<text x="440.8" y="88.77" font-size="6.9" text-anchor="start" fill="#222" textLength="12.81" lengthAdjust="spacingAndGlyphs">20%</text>
<text x="440.8" y="94.89" font-size="6.9" text-anchor="start" fill="#222" textLength="12.81" lengthAdjust="spacingAndGlyphs">19%</text>
<text x="440.8" y="101.01" font-size="6.9" text-anchor="start" fill="#222" textLength="12.81" lengthAdjust="spacingAndGlyphs">19%</text>
<text x="440.8" y="107.13" font-size="6.9" text-anchor="start" fill="#222" textLength="12.81" lengthAdjust="spacingAndGlyphs">15%</text>
<text x="440.8" y="113.25" font-size="6.9" text-anchor="start" fill="#222" textLength="12.81" lengthAdjust="spacingAndGlyphs">12%</text>
<text x="440.8" y="119.38" font-size="6.9" text-anchor="start" fill="#222" textLength="12.33" lengthAdjust="spacingAndGlyphs">11%</text>
<text x="440.8" y="125.5" font-size="6.9" text-anchor="start" fill="#222" textLength="12.33" lengthAdjust="spacingAndGlyphs">11%</text>
<text x="440.8" y="131.62" font-size="6.9" text-anchor="start" fill="#222" textLength="12.33" lengthAdjust="spacingAndGlyphs">11%</text>
<text x="440.8" y="137.74" font-size="6.9" text-anchor="start" fill="#222" textLength="12.81" lengthAdjust="spacingAndGlyphs">10%</text>
<text x="440.8" y="143.86" font-size="6.9" text-anchor="start" fill="#222" textLength="9.25" lengthAdjust="spacingAndGlyphs">8%</text>
<text x="440.8" y="149.99" font-size="6.9" text-anchor="start" fill="#222" textLength="9.25" lengthAdjust="spacingAndGlyphs">7%</text>
<text x="440.8" y="156.11" font-size="6.9" text-anchor="start" fill="#222" textLength="9.25" lengthAdjust="spacingAndGlyphs">6%</text>
<text x="440.8" y="162.23" font-size="6.9" text-anchor="start" fill="#222" textLength="9.25" lengthAdjust="spacingAndGlyphs">5%</text>
<text x="440.8" y="168.35" font-size="6.9" text-anchor="start" fill="#222" textLength="9.25" lengthAdjust="spacingAndGlyphs">5%</text>
<text x="440.8" y="174.47" font-size="6.9" text-anchor="start" fill="#222" textLength="9.25" lengthAdjust="spacingAndGlyphs">4%</text>
<text x="440.8" y="180.6" font-size="6.9" text-anchor="start" fill="#222" textLength="9.25" lengthAdjust="spacingAndGlyphs">4%</text>
<text x="440.8" y="186.72" font-size="6.9" text-anchor="start" fill="#222" textLength="9.25" lengthAdjust="spacingAndGlyphs">4%</text>
<text x="440.8" y="192.84" font-size="6.9" text-anchor="start" fill="#222" textLength="9.25" lengthAdjust="spacingAndGlyphs">3%</text>
<text x="440.8" y="198.96" font-size="6.9" text-anchor="start" fill="#222" textLength="9.25" lengthAdjust="spacingAndGlyphs">3%</text>
<text x="440.8" y="205.08" font-size="6.9" text-anchor="start" fill="#222" textLength="9.25" lengthAdjust="spacingAndGlyphs">3%</text>
<text x="440.8" y="211.21" font-size="6.9" text-anchor="start" fill="#222" textLength="9.25" lengthAdjust="spacingAndGlyphs">3%</text>
<text x="440.8" y="217.33" font-size="6.9" text-anchor="start" fill="#222" textLength="9.25" lengthAdjust="spacingAndGlyphs">3%</text>
<text x="440.8" y="223.45" font-size="6.9" text-anchor="start" fill="#222" textLength="9.25" lengthAdjust="spacingAndGlyphs">3%</text>
<text x="440.8" y="229.57" font-size="6.9" text-anchor="start" fill="#222" textLength="9.25" lengthAdjust="spacingAndGlyphs">2%</text>
<text x="440.8" y="235.69" font-size="6.9" text-anchor="start" fill="#222" textLength="9.25" lengthAdjust="spacingAndGlyphs">2%</text>
<text x="440.8" y="241.82" font-size="6.9" text-anchor="start" fill="#222" textLength="9.25" lengthAdjust="spacingAndGlyphs">2%</text>
<text x="440.8" y="247.94" font-size="6.9" text-anchor="start" fill="#222" textLength="9.25" lengthAdjust="spacingAndGlyphs">2%</text>
<text x="440.8" y="254.06" font-size="6.9" text-anchor="start" fill="#222" textLength="9.25" lengthAdjust="spacingAndGlyphs">1%</text>
<text x="440.8" y="260.18" font-size="6.9" text-anchor="start" fill="#222" textLength="9.25" lengthAdjust="spacingAndGlyphs">1%</text>
<text x="440.8" y="266.3" font-size="6.9" text-anchor="start" fill="#222" textLength="9.25" lengthAdjust="spacingAndGlyphs">1%</text>
<text x="440.8" y="272.43" font-size="6.9" text-anchor="start" fill="#222" textLength="9.25" lengthAdjust="spacingAndGlyphs">1%</text>
<text x="440.8" y="278.55" font-size="6.9" text-anchor="start" fill="#222" textLength="9.25" lengthAdjust="spacingAndGlyphs">1%</text>
<text x="440.8" y="284.67" font-size="6.9" text-anchor="start" fill="#222" textLength="9.25" lengthAdjust="spacingAndGlyphs">1%</text>
<text x="440.8" y="290.79" font-size="6.9" text-anchor="start" fill="#222" textLength="9.25" lengthAdjust="spacingAndGlyphs">1%</text>
<g fill="#1a8cc0">
<rect x="457.7" y="65.9" width="34.21" height="3.75"/>
<rect x="457.7" y="72.02" width="31.67" height="3.75"/>
<rect x="457.7" y="78.14" width="29.14" height="3.75"/>
<rect x="457.7" y="84.27" width="25.34" height="3.75"/>
<rect x="457.7" y="90.39" width="24.07" height="3.75"/>
<rect x="457.7" y="96.51" width="24.07" height="3.75"/>
<rect x="457.7" y="102.63" width="19" height="3.75"/>
<rect x="457.7" y="108.75" width="15.2" height="3.75"/>
<rect x="457.7" y="114.88" width="13.94" height="3.75"/>
<rect x="457.7" y="121" width="13.94" height="3.75"/>
<rect x="457.7" y="127.12" width="13.94" height="3.75"/>
<rect x="457.7" y="133.24" width="12.67" height="3.75"/>
<rect x="457.7" y="139.36" width="10.14" height="3.75"/>
<rect x="457.7" y="145.49" width="8.87" height="3.75"/>
<rect x="457.7" y="151.61" width="7.6" height="3.75"/>
<rect x="457.7" y="157.73" width="6.33" height="3.75"/>
<rect x="457.7" y="163.85" width="6.33" height="3.75"/>
<rect x="457.7" y="169.97" width="5.07" height="3.75"/>
<rect x="457.7" y="176.1" width="5.07" height="3.75"/>
<rect x="457.7" y="182.22" width="5.07" height="3.75"/>
<rect x="457.7" y="188.34" width="3.8" height="3.75"/>
<rect x="457.7" y="194.46" width="3.8" height="3.75"/>
<rect x="457.7" y="200.58" width="3.8" height="3.75"/>
<rect x="457.7" y="206.71" width="3.8" height="3.75"/>
<rect x="457.7" y="212.83" width="3.8" height="3.75"/>
<rect x="457.7" y="218.95" width="3.8" height="3.75"/>
<rect x="457.7" y="225.07" width="2.53" height="3.75"/>
<rect x="457.7" y="231.19" width="2.53" height="3.75"/>
<rect x="457.7" y="237.32" width="2.53" height="3.75"/>
<rect x="457.7" y="243.44" width="2.53" height="3.75"/>
<rect x="457.7" y="249.56" width="1.27" height="3.75"/>
<rect x="457.7" y="255.68" width="1.27" height="3.75"/>
<rect x="457.7" y="261.8" width="1.27" height="3.75"/>
<rect x="457.7" y="267.93" width="1.27" height="3.75"/>
<rect x="457.7" y="274.05" width="1.27" height="3.75"/>
<rect x="457.7" y="280.17" width="1.27" height="3.75"/>
<rect x="457.7" y="286.29" width="1.27" height="3.75"/>
</g>
<g stroke="#333" stroke-width="0.8">
<line x1="457.3" y1="64.5" x2="494.2" y2="64.5"/>
<line x1="457.6" y1="62" x2="457.6" y2="64.5"/>
<line x1="472.6" y1="62" x2="472.6" y2="64.5"/>
<line x1="487.6" y1="62" x2="487.6" y2="64.5"/>
</g>
<text x="457.6" y="58.9" font-size="6.4" text-anchor="middle" fill="#333" textLength="3.28" lengthAdjust="spacingAndGlyphs">0</text>
<text x="472.6" y="58.9" font-size="6.4" text-anchor="middle" fill="#333" textLength="6.56" lengthAdjust="spacingAndGlyphs">50</text>
<text x="488" y="58.9" font-size="6.4" text-anchor="middle" fill="#333" textLength="9.84" lengthAdjust="spacingAndGlyphs">100</text>
<rect x="64" y="294.5" width="1.8" height="7.2" fill="#1862a8"/>
<rect x="65.78" y="294.5" width="0.91" height="7.2" fill="#e0141e"/>
<rect x="66.67" y="294.5" width="0.91" height="7.2" fill="#1862a8"/>
<rect x="67.55" y="294.5" width="0.91" height="7.2" fill="#e0141e"/>
<rect x="68.44" y="294.5" width="0.91" height="7.2" fill="#1862a8"/>
<rect x="69.33" y="294.5" width="0.91" height="7.2" fill="#e0141e"/>
<rect x="70.22" y="294.5" width="1.8" height="7.2" fill="#1862a8"/>
<rect x="72" y="294.5" width="2.69" height="7.2" fill="#e0141e"/>
<rect x="74.66" y="294.5" width="0.91" height="7.2" fill="#1862a8"/>
<rect x="75.55" y="294.5" width="0.91" height="7.2" fill="#e0141e"/>
<rect x="76.44" y="294.5" width="1.8" height="7.2" fill="#1862a8"/>
<rect x="78.22" y="294.5" width="0.91" height="7.2" fill="#e0141e"/>
<rect x="79.11" y="294.5" width="1.8" height="7.2" fill="#1862a8"/>
<rect x="80.88" y="294.5" width="0.91" height="7.2" fill="#e0141e"/>
<rect x="81.77" y="294.5" width="1.8" height="7.2" fill="#1862a8"/>
<rect x="83.55" y="294.5" width="0.91" height="7.2" fill="#e0141e"/>
<rect x="84.44" y="294.5" width="2.69" height="7.2" fill="#1862a8"/>
<rect x="87.1" y="294.5" width="0.91" height="7.2" fill="#e0141e"/>
<rect x="87.99" y="294.5" width="0.91" height="7.2" fill="#1862a8"/>
<rect x="88.88" y="294.5" width="2.69" height="7.2" fill="#e0141e"/>
<rect x="91.55" y="294.5" width="0.91" height="7.2" fill="#1862a8"/>
<rect x="92.44" y="294.5" width="1.8" height="7.2" fill="#e0141e"/>
<rect x="94.21" y="294.5" width="0.91" height="7.2" fill="#1862a8"/>
<rect x="95.1" y="294.5" width="0.91" height="7.2" fill="#e0141e"/>
<rect x="95.99" y="294.5" width="1.8" height="7.2" fill="#1862a8"/>
<rect x="97.77" y="294.5" width="0.91" height="7.2" fill="#e0141e"/>
<rect x="98.66" y="294.5" width="0.91" height="7.2" fill="#1862a8"/>
<rect x="99.55" y="294.5" width="0.91" height="7.2" fill="#e0141e"/>
<rect x="100.43" y="294.5" width="0.91" height="7.2" fill="#1862a8"/>
<rect x="101.32" y="294.5" width="0.91" height="7.2" fill="#e0141e"/>
<rect x="102.21" y="294.5" width="0.91" height="7.2" fill="#1862a8"/>
<rect x="103.1" y="294.5" width="0.91" height="7.2" fill="#e0141e"/>
<rect x="103.99" y="294.5" width="1.8" height="7.2" fill="#1862a8"/>
<rect x="105.77" y="294.5" width="0.91" height="7.2" fill="#e0141e"/>
<rect x="106.65" y="294.5" width="1.8" height="7.2" fill="#1862a8"/>
<rect x="108.43" y="294.5" width="0.91" height="7.2" fill="#e0141e"/>
<rect x="109.32" y="294.5" width="0.91" height="7.2" fill="#1862a8"/>
<rect x="110.21" y="294.5" width="0.91" height="7.2" fill="#e0141e"/>
<rect x="111.1" y="294.5" width="0.91" height="7.2" fill="#1862a8"/>
<rect x="111.99" y="294.5" width="1.8" height="7.2" fill="#e0141e"/>
<rect x="113.76" y="294.5" width="3.57" height="7.2" fill="#1862a8"/>
<rect x="117.32" y="294.5" width="0.91" height="7.2" fill="#e0141e"/>
<rect x="118.21" y="294.5" width="0.91" height="7.2" fill="#1862a8"/>
<rect x="119.09" y="294.5" width="0.91" height="7.2" fill="#e0141e"/>
<rect x="119.98" y="294.5" width="0.91" height="7.2" fill="#1862a8"/>
<rect x="120.87" y="294.5" width="0.91" height="7.2" fill="#e0141e"/>
<rect x="121.76" y="294.5" width="0.91" height="7.2" fill="#1862a8"/>
<rect x="122.65" y="294.5" width="0.91" height="7.2" fill="#e0141e"/>
<rect x="123.54" y="294.5" width="1.8" height="7.2" fill="#1862a8"/>
<rect x="125.32" y="294.5" width="0.91" height="7.2" fill="#e0141e"/>
<rect x="126.2" y="294.5" width="1.8" height="7.2" fill="#1862a8"/>
<rect x="127.98" y="294.5" width="0.91" height="7.2" fill="#e0141e"/>
<rect x="128.87" y="294.5" width="0.91" height="7.2" fill="#1862a8"/>
<rect x="129.76" y="294.5" width="1.8" height="7.2" fill="#e0141e"/>
<rect x="131.54" y="294.5" width="0.91" height="7.2" fill="#1862a8"/>
<rect x="132.42" y="294.5" width="0.91" height="7.2" fill="#e0141e"/>
<rect x="133.31" y="294.5" width="0.91" height="7.2" fill="#1862a8"/>
<rect x="134.2" y="294.5" width="1.8" height="7.2" fill="#e0141e"/>
<rect x="135.98" y="294.5" width="0.91" height="7.2" fill="#1862a8"/>
<rect x="136.87" y="294.5" width="0.91" height="7.2" fill="#e0141e"/>
<rect x="137.76" y="294.5" width="0.91" height="7.2" fill="#1862a8"/>
<rect x="138.64" y="294.5" width="3.57" height="7.2" fill="#e0141e"/>
<rect x="142.2" y="294.5" width="0.91" height="7.2" fill="#1862a8"/>
<rect x="143.09" y="294.5" width="0.91" height="7.2" fill="#e0141e"/>
<rect x="143.98" y="294.5" width="0.91" height="7.2" fill="#1862a8"/>
<rect x="144.86" y="294.5" width="3.57" height="7.2" fill="#e0141e"/>
<rect x="148.42" y="294.5" width="0.91" height="7.2" fill="#1862a8"/>
<rect x="149.31" y="294.5" width="0.91" height="7.2" fill="#e0141e"/>
<rect x="150.2" y="294.5" width="2.69" height="7.2" fill="#1862a8"/>
<rect x="152.86" y="294.5" width="2.69" height="7.2" fill="#e0141e"/>
<rect x="155.53" y="294.5" width="0.91" height="7.2" fill="#1862a8"/>
<rect x="156.42" y="294.5" width="1.8" height="7.2" fill="#e0141e"/>
<rect x="158.19" y="294.5" width="1.8" height="7.2" fill="#1862a8"/>
<rect x="159.97" y="294.5" width="1.8" height="7.2" fill="#e0141e"/>
<rect x="161.75" y="294.5" width="1.8" height="7.2" fill="#1862a8"/>
<rect x="163.53" y="294.5" width="0.91" height="7.2" fill="#e0141e"/>
<rect x="164.41" y="294.5" width="0.91" height="7.2" fill="#1862a8"/>
<rect x="165.3" y="294.5" width="0.91" height="7.2" fill="#e0141e"/>
<rect x="166.19" y="294.5" width="0.91" height="7.2" fill="#1862a8"/>
<rect x="167.08" y="294.5" width="1.8" height="7.2" fill="#e0141e"/>
<rect x="168.86" y="294.5" width="0.91" height="7.2" fill="#1862a8"/>
<rect x="169.75" y="294.5" width="0.91" height="7.2" fill="#e0141e"/>
<rect x="170.64" y="294.5" width="1.8" height="7.2" fill="#1862a8"/>
<rect x="172.41" y="294.5" width="1.8" height="7.2" fill="#e0141e"/>
<rect x="174.19" y="294.5" width="0.91" height="7.2" fill="#1862a8"/>
<rect x="175.08" y="294.5" width="0.91" height="7.2" fill="#e0141e"/>
<rect x="175.97" y="294.5" width="0.91" height="7.2" fill="#1862a8"/>
<rect x="176.86" y="294.5" width="5.35" height="7.2" fill="#e0141e"/>
<rect x="182.19" y="294.5" width="0.91" height="7.2" fill="#1862a8"/>
<rect x="183.08" y="294.5" width="1.8" height="7.2" fill="#e0141e"/>
<rect x="184.85" y="294.5" width="0.91" height="7.2" fill="#1862a8"/>
<rect x="185.74" y="294.5" width="0.91" height="7.2" fill="#e0141e"/>
<rect x="186.63" y="294.5" width="0.91" height="7.2" fill="#1862a8"/>
<rect x="187.52" y="294.5" width="10.68" height="7.2" fill="#e0141e"/>
<rect x="198.18" y="294.5" width="0.91" height="7.2" fill="#1862a8"/>
<rect x="199.07" y="294.5" width="1.8" height="7.2" fill="#e0141e"/>
<rect x="200.85" y="294.5" width="0.91" height="7.2" fill="#1862a8"/>
<rect x="201.74" y="294.5" width="1.8" height="7.2" fill="#e0141e"/>
<rect x="203.51" y="294.5" width="1.8" height="7.2" fill="#1862a8"/>
<rect x="205.29" y="294.5" width="3.57" height="7.2" fill="#e0141e"/>
<rect x="208.85" y="294.5" width="0.91" height="7.2" fill="#1862a8"/>
<rect x="209.73" y="294.5" width="1.8" height="7.2" fill="#e0141e"/>
<rect x="211.51" y="294.5" width="0.91" height="7.2" fill="#1862a8"/>
<rect x="212.4" y="294.5" width="0.91" height="7.2" fill="#e0141e"/>
<rect x="213.29" y="294.5" width="1.8" height="7.2" fill="#1862a8"/>
<rect x="215.07" y="294.5" width="0.91" height="7.2" fill="#e0141e"/>
<rect x="215.95" y="294.5" width="0.91" height="7.2" fill="#1862a8"/>
<rect x="216.84" y="294.5" width="4.46" height="7.2" fill="#e0141e"/>
<rect x="221.29" y="294.5" width="0.91" height="7.2" fill="#1862a8"/>
<rect x="222.18" y="294.5" width="0.91" height="7.2" fill="#e0141e"/>
<rect x="223.06" y="294.5" width="0.91" height="7.2" fill="#1862a8"/>
<rect x="223.95" y="294.5" width="1.8" height="7.2" fill="#e0141e"/>
<rect x="225.73" y="294.5" width="0.91" height="7.2" fill="#1862a8"/>
<rect x="226.62" y="294.5" width="11.57" height="7.2" fill="#e0141e"/>
<rect x="238.17" y="294.5" width="0.91" height="7.2" fill="#1862a8"/>
<rect x="239.06" y="294.5" width="0.91" height="7.2" fill="#e0141e"/>
<rect x="239.95" y="294.5" width="0.91" height="7.2" fill="#1862a8"/>
<rect x="240.84" y="294.5" width="0.91" height="7.2" fill="#e0141e"/>
<rect x="241.73" y="294.5" width="0.91" height="7.2" fill="#1862a8"/>
<rect x="242.61" y="294.5" width="6.24" height="7.2" fill="#e0141e"/>
<rect x="248.83" y="294.5" width="0.91" height="7.2" fill="#1862a8"/>
<rect x="249.72" y="294.5" width="3.57" height="7.2" fill="#e0141e"/>
<rect x="253.28" y="294.5" width="0.91" height="7.2" fill="#1862a8"/>
<rect x="254.17" y="294.5" width="3.57" height="7.2" fill="#e0141e"/>
<rect x="257.72" y="294.5" width="0.91" height="7.2" fill="#1862a8"/>
<rect x="258.61" y="294.5" width="1.8" height="7.2" fill="#e0141e"/>
<rect x="260.39" y="294.5" width="0.91" height="7.2" fill="#1862a8"/>
<rect x="261.27" y="294.5" width="1.8" height="7.2" fill="#e0141e"/>
<rect x="263.05" y="294.5" width="0.91" height="7.2" fill="#1862a8"/>
<rect x="263.94" y="294.5" width="13.35" height="7.2" fill="#e0141e"/>
<rect x="277.27" y="294.5" width="0.91" height="7.2" fill="#1862a8"/>
<rect x="278.16" y="294.5" width="1.8" height="7.2" fill="#e0141e"/>
<rect x="279.94" y="294.5" width="0.91" height="7.2" fill="#1862a8"/>
<rect x="280.82" y="294.5" width="2.69" height="7.2" fill="#e0141e"/>
<rect x="283.49" y="294.5" width="0.91" height="7.2" fill="#1862a8"/>
<rect x="284.38" y="294.5" width="0.91" height="7.2" fill="#e0141e"/>
<rect x="285.27" y="294.5" width="1.8" height="7.2" fill="#1862a8"/>
<rect x="287.05" y="294.5" width="7.13" height="7.2" fill="#e0141e"/>
<rect x="294.15" y="294.5" width="0.91" height="7.2" fill="#1862a8"/>
<rect x="295.04" y="294.5" width="0.91" height="7.2" fill="#e0141e"/>
<rect x="295.93" y="294.5" width="0.91" height="7.2" fill="#1862a8"/>
<rect x="296.82" y="294.5" width="1.8" height="7.2" fill="#e0141e"/>
<rect x="298.6" y="294.5" width="0.91" height="7.2" fill="#1862a8"/>
<rect x="299.49" y="294.5" width="0.91" height="7.2" fill="#e0141e"/>
<rect x="300.37" y="294.5" width="0.91" height="7.2" fill="#1862a8"/>
<rect x="301.26" y="294.5" width="6.24" height="7.2" fill="#e0141e"/>
<rect x="307.48" y="294.5" width="0.91" height="7.2" fill="#1862a8"/>
<rect x="308.37" y="294.5" width="7.13" height="7.2" fill="#e0141e"/>
<rect x="315.48" y="294.5" width="0.91" height="7.2" fill="#1862a8"/>
<rect x="316.37" y="294.5" width="6.24" height="7.2" fill="#e0141e"/>
<rect x="322.59" y="294.5" width="0.91" height="7.2" fill="#1862a8"/>
<rect x="323.48" y="294.5" width="0.91" height="7.2" fill="#e0141e"/>
<rect x="324.37" y="294.5" width="1.8" height="7.2" fill="#1862a8"/>
<rect x="326.14" y="294.5" width="0.91" height="7.2" fill="#e0141e"/>
<rect x="327.03" y="294.5" width="0.91" height="7.2" fill="#1862a8"/>
<rect x="327.92" y="294.5" width="0.91" height="7.2" fill="#e0141e"/>
<rect x="328.81" y="294.5" width="0.91" height="7.2" fill="#1862a8"/>
<rect x="329.7" y="294.5" width="0.91" height="7.2" fill="#e0141e"/>
<rect x="330.59" y="294.5" width="0.91" height="7.2" fill="#1862a8"/>
<rect x="331.48" y="294.5" width="2.69" height="7.2" fill="#e0141e"/>
<rect x="334.14" y="294.5" width="0.91" height="7.2" fill="#1862a8"/>
<rect x="335.03" y="294.5" width="8.91" height="7.2" fill="#e0141e"/>
<rect x="343.92" y="294.5" width="0.91" height="7.2" fill="#1862a8"/>
<rect x="344.81" y="294.5" width="3.57" height="7.2" fill="#e0141e"/>
<rect x="348.36" y="294.5" width="0.91" height="7.2" fill="#1862a8"/>
<rect x="349.25" y="294.5" width="0.91" height="7.2" fill="#e0141e"/>
<rect x="350.14" y="294.5" width="0.91" height="7.2" fill="#1862a8"/>
<rect x="351.03" y="294.5" width="2.69" height="7.2" fill="#e0141e"/>
<rect x="353.69" y="294.5" width="0.91" height="7.2" fill="#1862a8"/>
<rect x="354.58" y="294.5" width="1.8" height="7.2" fill="#e0141e"/>
<rect x="356.36" y="294.5" width="0.91" height="7.2" fill="#1862a8"/>
<rect x="357.25" y="294.5" width="2.69" height="7.2" fill="#e0141e"/>
<rect x="359.91" y="294.5" width="0.91" height="7.2" fill="#1862a8"/>
<rect x="360.8" y="294.5" width="4.46" height="7.2" fill="#e0141e"/>
<rect x="365.24" y="294.5" width="0.91" height="7.2" fill="#1862a8"/>
<rect x="366.13" y="294.5" width="1.8" height="7.2" fill="#e0141e"/>
<rect x="367.91" y="294.5" width="0.91" height="7.2" fill="#1862a8"/>
<rect x="368.8" y="294.5" width="3.57" height="7.2" fill="#e0141e"/>
<rect x="372.35" y="294.5" width="0.91" height="7.2" fill="#1862a8"/>
<rect x="373.24" y="294.5" width="2.69" height="7.2" fill="#e0141e"/>
<rect x="375.91" y="294.5" width="0.91" height="7.2" fill="#1862a8"/>
<rect x="376.8" y="294.5" width="2.69" height="7.2" fill="#e0141e"/>
<rect x="379.46" y="294.5" width="0.91" height="7.2" fill="#1862a8"/>
<rect x="380.35" y="294.5" width="1.8" height="7.2" fill="#e0141e"/>
<rect x="382.13" y="294.5" width="0.91" height="7.2" fill="#1862a8"/>
<rect x="383.02" y="294.5" width="3.57" height="7.2" fill="#e0141e"/>
<rect x="386.57" y="294.5" width="0.91" height="7.2" fill="#1862a8"/>
<rect x="387.46" y="294.5" width="2.69" height="7.2" fill="#e0141e"/>
<rect x="390.13" y="294.5" width="0.91" height="7.2" fill="#1862a8"/>
<rect x="391.01" y="294.5" width="4.46" height="7.2" fill="#e0141e"/>
<rect x="395.46" y="294.5" width="0.91" height="7.2" fill="#1862a8"/>
<rect x="396.35" y="294.5" width="5.35" height="7.2" fill="#e0141e"/>
<rect x="401.68" y="294.5" width="1.8" height="7.2" fill="#1862a8"/>
<rect x="403.45" y="294.5" width="5.35" height="7.2" fill="#e0141e"/>
<rect x="408.79" y="294.5" width="0.91" height="7.2" fill="#1862a8"/>
<rect x="409.68" y="294.5" width="4.46" height="7.2" fill="#e0141e"/>
<rect x="414.12" y="294.5" width="0.91" height="7.2" fill="#1862a8"/>
<rect x="415.01" y="294.5" width="3.57" height="7.2" fill="#e0141e"/>
<rect x="418.56" y="294.5" width="0.91" height="7.2" fill="#1862a8"/>
<rect x="419.45" y="294.5" width="0.91" height="7.2" fill="#e0141e"/>
<rect x="420.34" y="294.5" width="0.91" height="7.2" fill="#1862a8"/>
<rect x="421.23" y="294.5" width="0.91" height="7.2" fill="#e0141e"/>
<rect x="422.12" y="294.5" width="0.91" height="7.2" fill="#1862a8"/>
<rect x="423" y="294.5" width="0.91" height="7.2" fill="#e0141e"/>
<rect x="423.89" y="294.5" width="0.91" height="7.2" fill="#1862a8"/>
<rect x="424.78" y="294.5" width="1.8" height="7.2" fill="#e0141e"/>
<rect x="426.56" y="294.5" width="0.91" height="7.2" fill="#1862a8"/>
<rect x="427.45" y="294.5" width="0.91" height="7.2" fill="#e0141e"/>
<rect x="428.34" y="294.5" width="0.91" height="7.2" fill="#1862a8"/>
<rect x="429.23" y="294.5" width="2.69" height="7.2" fill="#e0141e"/>
<rect x="431.89" y="294.5" width="0.91" height="7.2" fill="#1862a8"/>
<rect x="432.78" y="294.5" width="2.69" height="7.2" fill="#e0141e"/>
<rect x="435.45" y="294.5" width="0.91" height="7.2" fill="#1862a8"/>
<rect x="436.33" y="294.5" width="1.8" height="7.2" fill="#e0141e"/>
<rect x="438.11" y="294.5" width="0.91" height="7.2" fill="#1862a8"/>
<rect x="64" y="301.68" width="0.91" height="7.2" fill="#f8960c"/>
<rect x="64.89" y="301.68" width="3.57" height="7.2" fill="#12a03c"/>
<rect x="68.44" y="301.68" width="0.91" height="7.2" fill="#f8960c"/>
<rect x="69.33" y="301.68" width="0.91" height="7.2" fill="#12a03c"/>
<rect x="70.22" y="301.68" width="1.8" height="7.2" fill="#f8960c"/>
<rect x="72" y="301.68" width="0.91" height="7.2" fill="#12a03c"/>
<rect x="72.89" y="301.68" width="0.91" height="7.2" fill="#f8960c"/>
<rect x="73.77" y="301.68" width="0.91" height="7.2" fill="#12a03c"/>
<rect x="74.66" y="301.68" width="0.91" height="7.2" fill="#f8960c"/>
<rect x="75.55" y="301.68" width="2.69" height="7.2" fill="#12a03c"/>
<rect x="78.22" y="301.68" width="0.91" height="7.2" fill="#f8960c"/>
<rect x="79.11" y="301.68" width="2.69" height="7.2" fill="#12a03c"/>
<rect x="81.77" y="301.68" width="0.91" height="7.2" fill="#f8960c"/>
<rect x="82.66" y="301.68" width="2.69" height="7.2" fill="#12a03c"/>
<rect x="85.33" y="301.68" width="0.91" height="7.2" fill="#f8960c"/>
<rect x="86.22" y="301.68" width="4.46" height="7.2" fill="#12a03c"/>
<rect x="90.66" y="301.68" width="0.91" height="7.2" fill="#f8960c"/>
<rect x="91.55" y="301.68" width="5.35" height="7.2" fill="#12a03c"/>
<rect x="96.88" y="301.68" width="0.91" height="7.2" fill="#f8960c"/>
<rect x="97.77" y="301.68" width="1.8" height="7.2" fill="#12a03c"/>
<rect x="99.55" y="301.68" width="0.91" height="7.2" fill="#f8960c"/>
<rect x="100.43" y="301.68" width="0.91" height="7.2" fill="#12a03c"/>
<rect x="101.32" y="301.68" width="1.8" height="7.2" fill="#f8960c"/>
<rect x="103.1" y="301.68" width="4.46" height="7.2" fill="#12a03c"/>
<rect x="107.54" y="301.68" width="0.91" height="7.2" fill="#f8960c"/>
<rect x="108.43" y="301.68" width="1.8" height="7.2" fill="#12a03c"/>
<rect x="110.21" y="301.68" width="0.91" height="7.2" fill="#f8960c"/>
<rect x="111.1" y="301.68" width="3.57" height="7.2" fill="#12a03c"/>
<rect x="114.65" y="301.68" width="0.91" height="7.2" fill="#f8960c"/>
<rect x="115.54" y="301.68" width="3.57" height="7.2" fill="#12a03c"/>
<rect x="119.09" y="301.68" width="0.91" height="7.2" fill="#f8960c"/>
<rect x="119.98" y="301.68" width="0.91" height="7.2" fill="#12a03c"/>
<rect x="120.87" y="301.68" width="0.91" height="7.2" fill="#f8960c"/>
<rect x="121.76" y="301.68" width="2.69" height="7.2" fill="#12a03c"/>
<rect x="124.43" y="301.68" width="0.91" height="7.2" fill="#f8960c"/>
<rect x="125.32" y="301.68" width="0.91" height="7.2" fill="#12a03c"/>
<rect x="126.2" y="301.68" width="1.8" height="7.2" fill="#f8960c"/>
<rect x="127.98" y="301.68" width="0.91" height="7.2" fill="#12a03c"/>
<rect x="128.87" y="301.68" width="0.91" height="7.2" fill="#f8960c"/>
<rect x="129.76" y="301.68" width="0.91" height="7.2" fill="#12a03c"/>
<rect x="130.65" y="301.68" width="1.8" height="7.2" fill="#f8960c"/>
<rect x="132.42" y="301.68" width="0.91" height="7.2" fill="#12a03c"/>
<rect x="133.31" y="301.68" width="1.8" height="7.2" fill="#f8960c"/>
<rect x="135.09" y="301.68" width="3.57" height="7.2" fill="#12a03c"/>
<rect x="138.64" y="301.68" width="1.8" height="7.2" fill="#f8960c"/>
<rect x="140.42" y="301.68" width="2.69" height="7.2" fill="#12a03c"/>
<rect x="143.09" y="301.68" width="0.91" height="7.2" fill="#f8960c"/>
<rect x="143.98" y="301.68" width="4.46" height="7.2" fill="#12a03c"/>
<rect x="148.42" y="301.68" width="0.91" height="7.2" fill="#f8960c"/>
<rect x="149.31" y="301.68" width="9.79" height="7.2" fill="#12a03c"/>
<rect x="159.08" y="301.68" width="0.91" height="7.2" fill="#f8960c"/>
<rect x="159.97" y="301.68" width="4.46" height="7.2" fill="#12a03c"/>
<rect x="164.41" y="301.68" width="1.8" height="7.2" fill="#f8960c"/>
<rect x="166.19" y="301.68" width="4.46" height="7.2" fill="#12a03c"/>
<rect x="170.64" y="301.68" width="0.91" height="7.2" fill="#f8960c"/>
<rect x="171.52" y="301.68" width="1.8" height="7.2" fill="#12a03c"/>
<rect x="173.3" y="301.68" width="0.91" height="7.2" fill="#f8960c"/>
<rect x="174.19" y="301.68" width="3.57" height="7.2" fill="#12a03c"/>
<rect x="177.74" y="301.68" width="0.91" height="7.2" fill="#f8960c"/>
<rect x="178.63" y="301.68" width="1.8" height="7.2" fill="#12a03c"/>
<rect x="180.41" y="301.68" width="0.91" height="7.2" fill="#f8960c"/>
<rect x="181.3" y="301.68" width="0.91" height="7.2" fill="#12a03c"/>
<rect x="182.19" y="301.68" width="0.91" height="7.2" fill="#f8960c"/>
<rect x="183.08" y="301.68" width="2.69" height="7.2" fill="#12a03c"/>
<rect x="185.74" y="301.68" width="0.91" height="7.2" fill="#f8960c"/>
<rect x="186.63" y="301.68" width="4.46" height="7.2" fill="#12a03c"/>
<rect x="191.07" y="301.68" width="0.91" height="7.2" fill="#f8960c"/>
<rect x="191.96" y="301.68" width="0.91" height="7.2" fill="#12a03c"/>
<rect x="192.85" y="301.68" width="0.91" height="7.2" fill="#f8960c"/>
<rect x="193.74" y="301.68" width="0.91" height="7.2" fill="#12a03c"/>
<rect x="194.63" y="301.68" width="0.91" height="7.2" fill="#f8960c"/>
<rect x="195.52" y="301.68" width="1.8" height="7.2" fill="#12a03c"/>
<rect x="197.29" y="301.68" width="0.91" height="7.2" fill="#f8960c"/>
<rect x="198.18" y="301.68" width="5.35" height="7.2" fill="#12a03c"/>
<rect x="203.51" y="301.68" width="0.91" height="7.2" fill="#f8960c"/>
<rect x="204.4" y="301.68" width="1.8" height="7.2" fill="#12a03c"/>
<rect x="206.18" y="301.68" width="0.91" height="7.2" fill="#f8960c"/>
<rect x="207.07" y="301.68" width="0.91" height="7.2" fill="#12a03c"/>
<rect x="207.96" y="301.68" width="0.91" height="7.2" fill="#f8960c"/>
<rect x="208.85" y="301.68" width="1.8" height="7.2" fill="#12a03c"/>
<rect x="210.62" y="301.68" width="1.8" height="7.2" fill="#f8960c"/>
<rect x="212.4" y="301.68" width="1.8" height="7.2" fill="#12a03c"/>
<rect x="214.18" y="301.68" width="0.91" height="7.2" fill="#f8960c"/>
<rect x="215.07" y="301.68" width="5.35" height="7.2" fill="#12a03c"/>
<rect x="220.4" y="301.68" width="1.8" height="7.2" fill="#f8960c"/>
<rect x="222.18" y="301.68" width="0.91" height="7.2" fill="#12a03c"/>
<rect x="223.06" y="301.68" width="0.91" height="7.2" fill="#f8960c"/>
<rect x="223.95" y="301.68" width="0.91" height="7.2" fill="#12a03c"/>
<rect x="224.84" y="301.68" width="0.91" height="7.2" fill="#f8960c"/>
<rect x="225.73" y="301.68" width="0.91" height="7.2" fill="#12a03c"/>
<rect x="226.62" y="301.68" width="0.91" height="7.2" fill="#f8960c"/>
<rect x="227.51" y="301.68" width="4.46" height="7.2" fill="#12a03c"/>
<rect x="231.95" y="301.68" width="0.91" height="7.2" fill="#f8960c"/>
<rect x="232.84" y="301.68" width="2.69" height="7.2" fill="#12a03c"/>
<rect x="235.5" y="301.68" width="0.91" height="7.2" fill="#f8960c"/>
<rect x="236.39" y="301.68" width="0.91" height="7.2" fill="#12a03c"/>
<rect x="237.28" y="301.68" width="0.91" height="7.2" fill="#f8960c"/>
<rect x="238.17" y="301.68" width="5.35" height="7.2" fill="#12a03c"/>
<rect x="243.5" y="301.68" width="0.91" height="7.2" fill="#f8960c"/>
<rect x="244.39" y="301.68" width="0.91" height="7.2" fill="#12a03c"/>
<rect x="245.28" y="301.68" width="0.91" height="7.2" fill="#f8960c"/>
<rect x="246.17" y="301.68" width="0.91" height="7.2" fill="#12a03c"/>
<rect x="247.06" y="301.68" width="0.91" height="7.2" fill="#f8960c"/>
<rect x="247.95" y="301.68" width="4.46" height="7.2" fill="#12a03c"/>
<rect x="252.39" y="301.68" width="0.91" height="7.2" fill="#f8960c"/>
<rect x="253.28" y="301.68" width="0.91" height="7.2" fill="#12a03c"/>
<rect x="254.17" y="301.68" width="0.91" height="7.2" fill="#f8960c"/>
<rect x="255.05" y="301.68" width="3.57" height="7.2" fill="#12a03c"/>
<rect x="258.61" y="301.68" width="0.91" height="7.2" fill="#f8960c"/>
<rect x="259.5" y="301.68" width="0.91" height="7.2" fill="#12a03c"/>
<rect x="260.39" y="301.68" width="0.91" height="7.2" fill="#f8960c"/>
<rect x="261.27" y="301.68" width="1.8" height="7.2" fill="#12a03c"/>
<rect x="263.05" y="301.68" width="0.91" height="7.2" fill="#f8960c"/>
<rect x="263.94" y="301.68" width="2.69" height="7.2" fill="#12a03c"/>
<rect x="266.61" y="301.68" width="0.91" height="7.2" fill="#f8960c"/>
<rect x="267.5" y="301.68" width="0.91" height="7.2" fill="#12a03c"/>
<rect x="268.38" y="301.68" width="0.91" height="7.2" fill="#f8960c"/>
<rect x="269.27" y="301.68" width="1.8" height="7.2" fill="#12a03c"/>
<rect x="271.05" y="301.68" width="0.91" height="7.2" fill="#f8960c"/>
<rect x="271.94" y="301.68" width="4.46" height="7.2" fill="#12a03c"/>
<rect x="276.38" y="301.68" width="0.91" height="7.2" fill="#f8960c"/>
<rect x="277.27" y="301.68" width="5.35" height="7.2" fill="#12a03c"/>
<rect x="282.6" y="301.68" width="3.57" height="7.2" fill="#f8960c"/>
<rect x="286.16" y="301.68" width="0.91" height="7.2" fill="#12a03c"/>
<rect x="287.05" y="301.68" width="0.91" height="7.2" fill="#f8960c"/>
<rect x="287.93" y="301.68" width="3.57" height="7.2" fill="#12a03c"/>
<rect x="291.49" y="301.68" width="0.91" height="7.2" fill="#f8960c"/>
<rect x="292.38" y="301.68" width="1.8" height="7.2" fill="#12a03c"/>
<rect x="294.15" y="301.68" width="0.91" height="7.2" fill="#f8960c"/>
<rect x="295.04" y="301.68" width="4.46" height="7.2" fill="#12a03c"/>
<rect x="299.49" y="301.68" width="0.91" height="7.2" fill="#f8960c"/>
<rect x="300.37" y="301.68" width="0.91" height="7.2" fill="#12a03c"/>
<rect x="301.26" y="301.68" width="0.91" height="7.2" fill="#f8960c"/>
<rect x="302.15" y="301.68" width="0.91" height="7.2" fill="#12a03c"/>
<rect x="303.04" y="301.68" width="0.91" height="7.2" fill="#f8960c"/>
<rect x="303.93" y="301.68" width="1.8" height="7.2" fill="#12a03c"/>
<rect x="305.71" y="301.68" width="2.69" height="7.2" fill="#f8960c"/>
<rect x="308.37" y="301.68" width="0.91" height="7.2" fill="#12a03c"/>
<rect x="309.26" y="301.68" width="0.91" height="7.2" fill="#f8960c"/>
<rect x="310.15" y="301.68" width="0.91" height="7.2" fill="#12a03c"/>
<rect x="311.04" y="301.68" width="0.91" height="7.2" fill="#f8960c"/>
<rect x="311.93" y="301.68" width="1.8" height="7.2" fill="#12a03c"/>
<rect x="313.7" y="301.68" width="0.91" height="7.2" fill="#f8960c"/>
<rect x="314.59" y="301.68" width="0.91" height="7.2" fill="#12a03c"/>
<rect x="315.48" y="301.68" width="0.91" height="7.2" fill="#f8960c"/>
<rect x="316.37" y="301.68" width="2.69" height="7.2" fill="#12a03c"/>
<rect x="319.04" y="301.68" width="1.8" height="7.2" fill="#f8960c"/>
<rect x="320.81" y="301.68" width="0.91" height="7.2" fill="#12a03c"/>
<rect x="321.7" y="301.68" width="0.91" height="7.2" fill="#f8960c"/>
<rect x="322.59" y="301.68" width="6.24" height="7.2" fill="#12a03c"/>
<rect x="328.81" y="301.68" width="0.91" height="7.2" fill="#f8960c"/>
<rect x="329.7" y="301.68" width="2.69" height="7.2" fill="#12a03c"/>
<rect x="332.36" y="301.68" width="7.13" height="7.2" fill="#f8960c"/>
<rect x="339.47" y="301.68" width="1.8" height="7.2" fill="#12a03c"/>
<rect x="341.25" y="301.68" width="0.91" height="7.2" fill="#f8960c"/>
<rect x="342.14" y="301.68" width="0.91" height="7.2" fill="#12a03c"/>
<rect x="343.03" y="301.68" width="0.91" height="7.2" fill="#f8960c"/>
<rect x="343.92" y="301.68" width="1.8" height="7.2" fill="#12a03c"/>
<rect x="345.69" y="301.68" width="0.91" height="7.2" fill="#f8960c"/>
<rect x="346.58" y="301.68" width="2.69" height="7.2" fill="#12a03c"/>
<rect x="349.25" y="301.68" width="0.91" height="7.2" fill="#f8960c"/>
<rect x="350.14" y="301.68" width="0.91" height="7.2" fill="#12a03c"/>
<rect x="351.03" y="301.68" width="3.57" height="7.2" fill="#f8960c"/>
<rect x="354.58" y="301.68" width="0.91" height="7.2" fill="#12a03c"/>
<rect x="355.47" y="301.68" width="2.69" height="7.2" fill="#f8960c"/>
<rect x="358.14" y="301.68" width="0.91" height="7.2" fill="#12a03c"/>
<rect x="359.02" y="301.68" width="0.91" height="7.2" fill="#f8960c"/>
<rect x="359.91" y="301.68" width="0.91" height="7.2" fill="#12a03c"/>
<rect x="360.8" y="301.68" width="0.91" height="7.2" fill="#f8960c"/>
<rect x="361.69" y="301.68" width="1.8" height="7.2" fill="#12a03c"/>
<rect x="363.47" y="301.68" width="2.69" height="7.2" fill="#f8960c"/>
<rect x="366.13" y="301.68" width="0.91" height="7.2" fill="#12a03c"/>
<rect x="367.02" y="301.68" width="1.8" height="7.2" fill="#f8960c"/>
<rect x="368.8" y="301.68" width="0.91" height="7.2" fill="#12a03c"/>
<rect x="369.69" y="301.68" width="2.69" height="7.2" fill="#f8960c"/>
<rect x="372.35" y="301.68" width="1.8" height="7.2" fill="#12a03c"/>
<rect x="374.13" y="301.68" width="3.57" height="7.2" fill="#f8960c"/>
<rect x="377.68" y="301.68" width="0.91" height="7.2" fill="#12a03c"/>
<rect x="378.57" y="301.68" width="1.8" height="7.2" fill="#f8960c"/>
<rect x="380.35" y="301.68" width="2.69" height="7.2" fill="#12a03c"/>
<rect x="383.02" y="301.68" width="0.91" height="7.2" fill="#f8960c"/>
<rect x="383.91" y="301.68" width="0.91" height="7.2" fill="#12a03c"/>
<rect x="384.79" y="301.68" width="0.91" height="7.2" fill="#f8960c"/>
<rect x="385.68" y="301.68" width="1.8" height="7.2" fill="#12a03c"/>
<rect x="387.46" y="301.68" width="0.91" height="7.2" fill="#f8960c"/>
<rect x="388.35" y="301.68" width="3.57" height="7.2" fill="#12a03c"/>
<rect x="391.9" y="301.68" width="0.91" height="7.2" fill="#f8960c"/>
<rect x="392.79" y="301.68" width="6.24" height="7.2" fill="#12a03c"/>
<rect x="399.01" y="301.68" width="2.69" height="7.2" fill="#f8960c"/>
<rect x="401.68" y="301.68" width="0.91" height="7.2" fill="#12a03c"/>
<rect x="402.57" y="301.68" width="0.91" height="7.2" fill="#f8960c"/>
<rect x="403.45" y="301.68" width="0.91" height="7.2" fill="#12a03c"/>
<rect x="404.34" y="301.68" width="2.69" height="7.2" fill="#f8960c"/>
<rect x="407.01" y="301.68" width="0.91" height="7.2" fill="#12a03c"/>
<rect x="407.9" y="301.68" width="0.91" height="7.2" fill="#f8960c"/>
<rect x="408.79" y="301.68" width="1.8" height="7.2" fill="#12a03c"/>
<rect x="410.56" y="301.68" width="1.8" height="7.2" fill="#f8960c"/>
<rect x="412.34" y="301.68" width="0.91" height="7.2" fill="#12a03c"/>
<rect x="413.23" y="301.68" width="0.91" height="7.2" fill="#f8960c"/>
<rect x="414.12" y="301.68" width="0.91" height="7.2" fill="#12a03c"/>
<rect x="415.01" y="301.68" width="0.91" height="7.2" fill="#f8960c"/>
<rect x="415.9" y="301.68" width="0.91" height="7.2" fill="#12a03c"/>
<rect x="416.78" y="301.68" width="2.69" height="7.2" fill="#f8960c"/>
<rect x="419.45" y="301.68" width="1.8" height="7.2" fill="#12a03c"/>
<rect x="421.23" y="301.68" width="0.91" height="7.2" fill="#f8960c"/>
<rect x="422.12" y="301.68" width="0.91" height="7.2" fill="#12a03c"/>
<rect x="423" y="301.68" width="1.8" height="7.2" fill="#f8960c"/>
<rect x="424.78" y="301.68" width="3.57" height="7.2" fill="#12a03c"/>
<rect x="428.34" y="301.68" width="0.91" height="7.2" fill="#f8960c"/>
<rect x="429.23" y="301.68" width="0.91" height="7.2" fill="#12a03c"/>
<rect x="430.11" y="301.68" width="2.69" height="7.2" fill="#f8960c"/>
<rect x="432.78" y="301.68" width="1.8" height="7.2" fill="#12a03c"/>
<rect x="434.56" y="301.68" width="3.57" height="7.2" fill="#f8960c"/>
<rect x="438.11" y="301.68" width="0.91" height="7.2" fill="#12a03c"/>
<rect x="64" y="308.86" width="0.91" height="7.2" fill="#9a238e"/>
<rect x="64.89" y="308.86" width="0.91" height="7.2" fill="#16b2d8"/>
<rect x="65.78" y="308.86" width="1.8" height="7.2" fill="#9a238e"/>
<rect x="67.55" y="308.86" width="0.91" height="7.2" fill="#16b2d8"/>
<rect x="68.44" y="308.86" width="4.46" height="7.2" fill="#9a238e"/>
<rect x="72.89" y="308.86" width="0.91" height="7.2" fill="#16b2d8"/>
<rect x="73.77" y="308.86" width="8.91" height="7.2" fill="#9a238e"/>
<rect x="82.66" y="308.86" width="0.91" height="7.2" fill="#16b2d8"/>
<rect x="83.55" y="308.86" width="12.46" height="7.2" fill="#9a238e"/>
<rect x="95.99" y="308.86" width="0.91" height="7.2" fill="#16b2d8"/>
<rect x="96.88" y="308.86" width="31.12" height="7.2" fill="#9a238e"/>
<rect x="127.98" y="308.86" width="0.91" height="7.2" fill="#16b2d8"/>
<rect x="128.87" y="308.86" width="18.68" height="7.2" fill="#9a238e"/>
<rect x="147.53" y="308.86" width="0.91" height="7.2" fill="#16b2d8"/>
<rect x="148.42" y="308.86" width="10.68" height="7.2" fill="#9a238e"/>
<rect x="159.08" y="308.86" width="0.91" height="7.2" fill="#16b2d8"/>
<rect x="159.97" y="308.86" width="4.46" height="7.2" fill="#9a238e"/>
<rect x="164.41" y="308.86" width="9.79" height="7.2" fill="#16b2d8"/>
<rect x="174.19" y="308.86" width="0.91" height="7.2" fill="#9a238e"/>
<rect x="175.08" y="308.86" width="5.35" height="7.2" fill="#16b2d8"/>
<rect x="180.41" y="308.86" width="0.91" height="7.2" fill="#9a238e"/>
<rect x="181.3" y="308.86" width="1.8" height="7.2" fill="#16b2d8"/>
<rect x="183.08" y="308.86" width="0.91" height="7.2" fill="#9a238e"/>
<rect x="183.96" y="308.86" width="2.69" height="7.2" fill="#16b2d8"/>
<rect x="186.63" y="308.86" width="0.91" height="7.2" fill="#9a238e"/>
<rect x="187.52" y="308.86" width="2.69" height="7.2" fill="#16b2d8"/>
<rect x="190.18" y="308.86" width="0.91" height="7.2" fill="#9a238e"/>
<rect x="191.07" y="308.86" width="4.46" height="7.2" fill="#16b2d8"/>
<rect x="195.52" y="308.86" width="0.91" height="7.2" fill="#9a238e"/>
<rect x="196.41" y="308.86" width="4.46" height="7.2" fill="#16b2d8"/>
<rect x="200.85" y="308.86" width="0.91" height="7.2" fill="#9a238e"/>
<rect x="201.74" y="308.86" width="3.57" height="7.2" fill="#16b2d8"/>
<rect x="205.29" y="308.86" width="0.91" height="7.2" fill="#9a238e"/>
<rect x="206.18" y="308.86" width="20.46" height="7.2" fill="#16b2d8"/>
<rect x="226.62" y="308.86" width="1.8" height="7.2" fill="#9a238e"/>
<rect x="228.4" y="308.86" width="1.8" height="7.2" fill="#16b2d8"/>
<rect x="230.17" y="308.86" width="0.91" height="7.2" fill="#9a238e"/>
<rect x="231.06" y="308.86" width="0.91" height="7.2" fill="#16b2d8"/>
<rect x="231.95" y="308.86" width="0.91" height="7.2" fill="#9a238e"/>
<rect x="232.84" y="308.86" width="11.57" height="7.2" fill="#16b2d8"/>
<rect x="244.39" y="308.86" width="0.91" height="7.2" fill="#9a238e"/>
<rect x="245.28" y="308.86" width="0.91" height="7.2" fill="#16b2d8"/>
<rect x="246.17" y="308.86" width="0.91" height="7.2" fill="#9a238e"/>
<rect x="247.06" y="308.86" width="7.13" height="7.2" fill="#16b2d8"/>
<rect x="254.17" y="308.86" width="0.91" height="7.2" fill="#9a238e"/>
<rect x="255.05" y="308.86" width="0.91" height="7.2" fill="#16b2d8"/>
<rect x="255.94" y="308.86" width="0.91" height="7.2" fill="#9a238e"/>
<rect x="256.83" y="308.86" width="5.35" height="7.2" fill="#16b2d8"/>
<rect x="262.16" y="308.86" width="0.91" height="7.2" fill="#9a238e"/>
<rect x="263.05" y="308.86" width="0.91" height="7.2" fill="#16b2d8"/>
<rect x="263.94" y="308.86" width="2.69" height="7.2" fill="#9a238e"/>
<rect x="266.61" y="308.86" width="1.8" height="7.2" fill="#16b2d8"/>
<rect x="268.38" y="308.86" width="0.91" height="7.2" fill="#9a238e"/>
<rect x="269.27" y="308.86" width="3.57" height="7.2" fill="#16b2d8"/>
<rect x="272.83" y="308.86" width="0.91" height="7.2" fill="#9a238e"/>
<rect x="273.72" y="308.86" width="1.8" height="7.2" fill="#16b2d8"/>
<rect x="275.49" y="308.86" width="0.91" height="7.2" fill="#9a238e"/>
<rect x="276.38" y="308.86" width="3.57" height="7.2" fill="#16b2d8"/>
<rect x="279.94" y="308.86" width="0.91" height="7.2" fill="#9a238e"/>
<rect x="280.82" y="308.86" width="3.57" height="7.2" fill="#16b2d8"/>
<rect x="284.38" y="308.86" width="0.91" height="7.2" fill="#9a238e"/>
<rect x="285.27" y="308.86" width="5.35" height="7.2" fill="#16b2d8"/>
<rect x="290.6" y="308.86" width="0.91" height="7.2" fill="#9a238e"/>
<rect x="291.49" y="308.86" width="0.91" height="7.2" fill="#16b2d8"/>
<rect x="292.38" y="308.86" width="0.91" height="7.2" fill="#9a238e"/>
<rect x="293.27" y="308.86" width="1.8" height="7.2" fill="#16b2d8"/>
<rect x="295.04" y="308.86" width="0.91" height="7.2" fill="#9a238e"/>
<rect x="295.93" y="308.86" width="2.69" height="7.2" fill="#16b2d8"/>
<rect x="298.6" y="308.86" width="0.91" height="7.2" fill="#9a238e"/>
<rect x="299.49" y="308.86" width="3.57" height="7.2" fill="#16b2d8"/>
<rect x="303.04" y="308.86" width="0.91" height="7.2" fill="#9a238e"/>
<rect x="303.93" y="308.86" width="5.35" height="7.2" fill="#16b2d8"/>
<rect x="309.26" y="308.86" width="2.69" height="7.2" fill="#9a238e"/>
<rect x="311.93" y="308.86" width="1.8" height="7.2" fill="#16b2d8"/>
<rect x="313.7" y="308.86" width="0.91" height="7.2" fill="#9a238e"/>
<rect x="314.59" y="308.86" width="5.35" height="7.2" fill="#16b2d8"/>
<rect x="319.92" y="308.86" width="0.91" height="7.2" fill="#9a238e"/>
<rect x="320.81" y="308.86" width="0.91" height="7.2" fill="#16b2d8"/>
<rect x="321.7" y="308.86" width="1.8" height="7.2" fill="#9a238e"/>
<rect x="323.48" y="308.86" width="0.91" height="7.2" fill="#16b2d8"/>
<rect x="324.37" y="308.86" width="0.91" height="7.2" fill="#9a238e"/>
<rect x="325.26" y="308.86" width="2.69" height="7.2" fill="#16b2d8"/>
<rect x="327.92" y="308.86" width="0.91" height="7.2" fill="#9a238e"/>
<rect x="328.81" y="308.86" width="3.57" height="7.2" fill="#16b2d8"/>
<rect x="332.36" y="308.86" width="0.91" height="7.2" fill="#9a238e"/>
<rect x="333.25" y="308.86" width="3.57" height="7.2" fill="#16b2d8"/>
<rect x="336.81" y="308.86" width="0.91" height="7.2" fill="#9a238e"/>
<rect x="337.7" y="308.86" width="5.35" height="7.2" fill="#16b2d8"/>
<rect x="343.03" y="308.86" width="0.91" height="7.2" fill="#9a238e"/>
<rect x="343.92" y="308.86" width="1.8" height="7.2" fill="#16b2d8"/>
<rect x="345.69" y="308.86" width="0.91" height="7.2" fill="#9a238e"/>
<rect x="346.58" y="308.86" width="2.69" height="7.2" fill="#16b2d8"/>
<rect x="349.25" y="308.86" width="0.91" height="7.2" fill="#9a238e"/>
<rect x="350.14" y="308.86" width="1.8" height="7.2" fill="#16b2d8"/>
<rect x="351.91" y="308.86" width="1.8" height="7.2" fill="#9a238e"/>
<rect x="353.69" y="308.86" width="6.24" height="7.2" fill="#16b2d8"/>
<rect x="359.91" y="308.86" width="0.91" height="7.2" fill="#9a238e"/>
<rect x="360.8" y="308.86" width="1.8" height="7.2" fill="#16b2d8"/>
<rect x="362.58" y="308.86" width="0.91" height="7.2" fill="#9a238e"/>
<rect x="363.47" y="308.86" width="11.57" height="7.2" fill="#16b2d8"/>
<rect x="375.02" y="308.86" width="0.91" height="7.2" fill="#9a238e"/>
<rect x="375.91" y="308.86" width="6.24" height="7.2" fill="#16b2d8"/>
<rect x="382.13" y="308.86" width="1.8" height="7.2" fill="#9a238e"/>
<rect x="383.91" y="308.86" width="0.91" height="7.2" fill="#16b2d8"/>
<rect x="384.79" y="308.86" width="0.91" height="7.2" fill="#9a238e"/>
<rect x="385.68" y="308.86" width="1.8" height="7.2" fill="#16b2d8"/>
<rect x="387.46" y="308.86" width="0.91" height="7.2" fill="#9a238e"/>
<rect x="388.35" y="308.86" width="0.91" height="7.2" fill="#16b2d8"/>
<rect x="389.24" y="308.86" width="0.91" height="7.2" fill="#9a238e"/>
<rect x="390.13" y="308.86" width="0.91" height="7.2" fill="#16b2d8"/>
<rect x="391.01" y="308.86" width="1.8" height="7.2" fill="#9a238e"/>
<rect x="392.79" y="308.86" width="11.57" height="7.2" fill="#16b2d8"/>
<rect x="404.34" y="308.86" width="0.91" height="7.2" fill="#9a238e"/>
<rect x="405.23" y="308.86" width="1.8" height="7.2" fill="#16b2d8"/>
<rect x="407.01" y="308.86" width="0.91" height="7.2" fill="#9a238e"/>
<rect x="407.9" y="308.86" width="1.8" height="7.2" fill="#16b2d8"/>
<rect x="409.68" y="308.86" width="1.8" height="7.2" fill="#9a238e"/>
<rect x="411.45" y="308.86" width="1.8" height="7.2" fill="#16b2d8"/>
<rect x="413.23" y="308.86" width="1.8" height="7.2" fill="#9a238e"/>
<rect x="415.01" y="308.86" width="0.91" height="7.2" fill="#16b2d8"/>
<rect x="415.9" y="308.86" width="0.91" height="7.2" fill="#9a238e"/>
<rect x="416.78" y="308.86" width="7.13" height="7.2" fill="#16b2d8"/>
<rect x="423.89" y="308.86" width="0.91" height="7.2" fill="#9a238e"/>
<rect x="424.78" y="308.86" width="0.91" height="7.2" fill="#16b2d8"/>
<rect x="425.67" y="308.86" width="0.91" height="7.2" fill="#9a238e"/>
<rect x="426.56" y="308.86" width="3.57" height="7.2" fill="#16b2d8"/>
<rect x="430.11" y="308.86" width="1.8" height="7.2" fill="#9a238e"/>
<rect x="431.89" y="308.86" width="0.91" height="7.2" fill="#16b2d8"/>
<rect x="432.78" y="308.86" width="0.91" height="7.2" fill="#9a238e"/>
<rect x="433.67" y="308.86" width="1.8" height="7.2" fill="#16b2d8"/>
<rect x="435.45" y="308.86" width="2.69" height="7.2" fill="#9a238e"/>
<rect x="438.11" y="308.86" width="0.91" height="7.2" fill="#16b2d8"/>
<rect x="64" y="316.04" width="3.57" height="7.2" fill="#9a238e"/>
<rect x="67.55" y="316.04" width="0.91" height="7.2" fill="#16b2d8"/>
<rect x="68.44" y="316.04" width="4.46" height="7.2" fill="#9a238e"/>
<rect x="72.89" y="316.04" width="0.91" height="7.2" fill="#16b2d8"/>
<rect x="73.77" y="316.04" width="22.24" height="7.2" fill="#9a238e"/>
<rect x="95.99" y="316.04" width="0.91" height="7.2" fill="#16b2d8"/>
<rect x="96.88" y="316.04" width="31.12" height="7.2" fill="#9a238e"/>
<rect x="127.98" y="316.04" width="0.91" height="7.2" fill="#16b2d8"/>
<rect x="128.87" y="316.04" width="35.57" height="7.2" fill="#9a238e"/>
<rect x="164.41" y="316.04" width="3.57" height="7.2" fill="#16b2d8"/>
<rect x="167.97" y="316.04" width="0.91" height="7.2" fill="#9a238e"/>
<rect x="168.86" y="316.04" width="5.35" height="7.2" fill="#16b2d8"/>
<rect x="174.19" y="316.04" width="0.91" height="7.2" fill="#9a238e"/>
<rect x="175.08" y="316.04" width="5.35" height="7.2" fill="#16b2d8"/>
<rect x="180.41" y="316.04" width="0.91" height="7.2" fill="#9a238e"/>
<rect x="181.3" y="316.04" width="1.8" height="7.2" fill="#16b2d8"/>
<rect x="183.08" y="316.04" width="0.91" height="7.2" fill="#9a238e"/>
<rect x="183.96" y="316.04" width="2.69" height="7.2" fill="#16b2d8"/>
<rect x="186.63" y="316.04" width="0.91" height="7.2" fill="#9a238e"/>
<rect x="187.52" y="316.04" width="2.69" height="7.2" fill="#16b2d8"/>
<rect x="190.18" y="316.04" width="0.91" height="7.2" fill="#9a238e"/>
<rect x="191.07" y="316.04" width="2.69" height="7.2" fill="#16b2d8"/>
<rect x="193.74" y="316.04" width="2.69" height="7.2" fill="#9a238e"/>
<rect x="196.41" y="316.04" width="4.46" height="7.2" fill="#16b2d8"/>
<rect x="200.85" y="316.04" width="0.91" height="7.2" fill="#9a238e"/>
<rect x="201.74" y="316.04" width="3.57" height="7.2" fill="#16b2d8"/>
<rect x="205.29" y="316.04" width="1.8" height="7.2" fill="#9a238e"/>
<rect x="207.07" y="316.04" width="4.46" height="7.2" fill="#16b2d8"/>
<rect x="211.51" y="316.04" width="0.91" height="7.2" fill="#9a238e"/>
<rect x="212.4" y="316.04" width="2.69" height="7.2" fill="#16b2d8"/>
<rect x="215.07" y="316.04" width="0.91" height="7.2" fill="#9a238e"/>
<rect x="215.95" y="316.04" width="1.8" height="7.2" fill="#16b2d8"/>
<rect x="217.73" y="316.04" width="1.8" height="7.2" fill="#9a238e"/>
<rect x="219.51" y="316.04" width="7.13" height="7.2" fill="#16b2d8"/>
<rect x="226.62" y="316.04" width="1.8" height="7.2" fill="#9a238e"/>
<rect x="228.4" y="316.04" width="1.8" height="7.2" fill="#16b2d8"/>
<rect x="230.17" y="316.04" width="0.91" height="7.2" fill="#9a238e"/>
<rect x="231.06" y="316.04" width="0.91" height="7.2" fill="#16b2d8"/>
<rect x="231.95" y="316.04" width="1.8" height="7.2" fill="#9a238e"/>
<rect x="233.73" y="316.04" width="0.91" height="7.2" fill="#16b2d8"/>
<rect x="234.62" y="316.04" width="0.91" height="7.2" fill="#9a238e"/>
<rect x="235.5" y="316.04" width="6.24" height="7.2" fill="#16b2d8"/>
<rect x="241.73" y="316.04" width="1.8" height="7.2" fill="#9a238e"/>
<rect x="243.5" y="316.04" width="0.91" height="7.2" fill="#16b2d8"/>
<rect x="244.39" y="316.04" width="0.91" height="7.2" fill="#9a238e"/>
<rect x="245.28" y="316.04" width="0.91" height="7.2" fill="#16b2d8"/>
<rect x="246.17" y="316.04" width="0.91" height="7.2" fill="#9a238e"/>
<rect x="247.06" y="316.04" width="7.13" height="7.2" fill="#16b2d8"/>
<rect x="254.17" y="316.04" width="0.91" height="7.2" fill="#9a238e"/>
<rect x="255.05" y="316.04" width="0.91" height="7.2" fill="#16b2d8"/>
<rect x="255.94" y="316.04" width="0.91" height="7.2" fill="#9a238e"/>
<rect x="256.83" y="316.04" width="5.35" height="7.2" fill="#16b2d8"/>
<rect x="262.16" y="316.04" width="0.91" height="7.2" fill="#9a238e"/>
<rect x="263.05" y="316.04" width="0.91" height="7.2" fill="#16b2d8"/>
<rect x="263.94" y="316.04" width="2.69" height="7.2" fill="#9a238e"/>
<rect x="266.61" y="316.04" width="1.8" height="7.2" fill="#16b2d8"/>
<rect x="268.38" y="316.04" width="0.91" height="7.2" fill="#9a238e"/>
<rect x="269.27" y="316.04" width="3.57" height="7.2" fill="#16b2d8"/>
<rect x="272.83" y="316.04" width="0.91" height="7.2" fill="#9a238e"/>
<rect x="273.72" y="316.04" width="1.8" height="7.2" fill="#16b2d8"/>
<rect x="275.49" y="316.04" width="0.91" height="7.2" fill="#9a238e"/>
<rect x="276.38" y="316.04" width="3.57" height="7.2" fill="#16b2d8"/>
<rect x="279.94" y="316.04" width="1.8" height="7.2" fill="#9a238e"/>
<rect x="281.71" y="316.04" width="2.69" height="7.2" fill="#16b2d8"/>
<rect x="284.38" y="316.04" width="0.91" height="7.2" fill="#9a238e"/>
<rect x="285.27" y="316.04" width="5.35" height="7.2" fill="#16b2d8"/>
<rect x="290.6" y="316.04" width="0.91" height="7.2" fill="#9a238e"/>
<rect x="291.49" y="316.04" width="0.91" height="7.2" fill="#16b2d8"/>
<rect x="292.38" y="316.04" width="0.91" height="7.2" fill="#9a238e"/>
<rect x="293.27" y="316.04" width="1.8" height="7.2" fill="#16b2d8"/>
<rect x="295.04" y="316.04" width="0.91" height="7.2" fill="#9a238e"/>
<rect x="295.93" y="316.04" width="2.69" height="7.2" fill="#16b2d8"/>
<rect x="298.6" y="316.04" width="1.8" height="7.2" fill="#9a238e"/>
<rect x="300.37" y="316.04" width="0.91" height="7.2" fill="#16b2d8"/>
<rect x="301.26" y="316.04" width="0.91" height="7.2" fill="#9a238e"/>
<rect x="302.15" y="316.04" width="0.91" height="7.2" fill="#16b2d8"/>
<rect x="303.04" y="316.04" width="0.91" height="7.2" fill="#9a238e"/>
<rect x="303.93" y="316.04" width="1.8" height="7.2" fill="#16b2d8"/>
<rect x="305.71" y="316.04" width="0.91" height="7.2" fill="#9a238e"/>
<rect x="306.59" y="316.04" width="2.69" height="7.2" fill="#16b2d8"/>
<rect x="309.26" y="316.04" width="2.69" height="7.2" fill="#9a238e"/>
<rect x="311.93" y="316.04" width="1.8" height="7.2" fill="#16b2d8"/>
<rect x="313.7" y="316.04" width="0.91" height="7.2" fill="#9a238e"/>
<rect x="314.59" y="316.04" width="5.35" height="7.2" fill="#16b2d8"/>
<rect x="319.92" y="316.04" width="0.91" height="7.2" fill="#9a238e"/>
<rect x="320.81" y="316.04" width="0.91" height="7.2" fill="#16b2d8"/>
<rect x="321.7" y="316.04" width="1.8" height="7.2" fill="#9a238e"/>
<rect x="323.48" y="316.04" width="0.91" height="7.2" fill="#16b2d8"/>
<rect x="324.37" y="316.04" width="0.91" height="7.2" fill="#9a238e"/>
<rect x="325.26" y="316.04" width="2.69" height="7.2" fill="#16b2d8"/>
<rect x="327.92" y="316.04" width="0.91" height="7.2" fill="#9a238e"/>
<rect x="328.81" y="316.04" width="3.57" height="7.2" fill="#16b2d8"/>
<rect x="332.36" y="316.04" width="0.91" height="7.2" fill="#9a238e"/>
<rect x="333.25" y="316.04" width="3.57" height="7.2" fill="#16b2d8"/>
<rect x="336.81" y="316.04" width="0.91" height="7.2" fill="#9a238e"/>
<rect x="337.7" y="316.04" width="1.8" height="7.2" fill="#16b2d8"/>
<rect x="339.47" y="316.04" width="0.91" height="7.2" fill="#9a238e"/>
<rect x="340.36" y="316.04" width="2.69" height="7.2" fill="#16b2d8"/>
<rect x="343.03" y="316.04" width="0.91" height="7.2" fill="#9a238e"/>
<rect x="343.92" y="316.04" width="1.8" height="7.2" fill="#16b2d8"/>
<rect x="345.69" y="316.04" width="0.91" height="7.2" fill="#9a238e"/>
<rect x="346.58" y="316.04" width="2.69" height="7.2" fill="#16b2d8"/>
<rect x="349.25" y="316.04" width="0.91" height="7.2" fill="#9a238e"/>
<rect x="350.14" y="316.04" width="1.8" height="7.2" fill="#16b2d8"/>
<rect x="351.91" y="316.04" width="1.8" height="7.2" fill="#9a238e"/>
<rect x="353.69" y="316.04" width="6.24" height="7.2" fill="#16b2d8"/>
<rect x="359.91" y="316.04" width="1.8" height="7.2" fill="#9a238e"/>
<rect x="361.69" y="316.04" width="0.91" height="7.2" fill="#16b2d8"/>
<rect x="362.58" y="316.04" width="0.91" height="7.2" fill="#9a238e"/>
<rect x="363.47" y="316.04" width="7.13" height="7.2" fill="#16b2d8"/>
<rect x="370.58" y="316.04" width="1.8" height="7.2" fill="#9a238e"/>
<rect x="372.35" y="316.04" width="2.69" height="7.2" fill="#16b2d8"/>
<rect x="375.02" y="316.04" width="0.91" height="7.2" fill="#9a238e"/>
<rect x="375.91" y="316.04" width="2.69" height="7.2" fill="#16b2d8"/>
<rect x="378.57" y="316.04" width="0.91" height="7.2" fill="#9a238e"/>
<rect x="379.46" y="316.04" width="2.69" height="7.2" fill="#16b2d8"/>
<rect x="382.13" y="316.04" width="1.8" height="7.2" fill="#9a238e"/>
<rect x="383.91" y="316.04" width="0.91" height="7.2" fill="#16b2d8"/>
<rect x="384.79" y="316.04" width="0.91" height="7.2" fill="#9a238e"/>
<rect x="385.68" y="316.04" width="1.8" height="7.2" fill="#16b2d8"/>
<rect x="387.46" y="316.04" width="0.91" height="7.2" fill="#9a238e"/>
<rect x="388.35" y="316.04" width="0.91" height="7.2" fill="#16b2d8"/>
<rect x="389.24" y="316.04" width="0.91" height="7.2" fill="#9a238e"/>
<rect x="390.13" y="316.04" width="0.91" height="7.2" fill="#16b2d8"/>
<rect x="391.01" y="316.04" width="1.8" height="7.2" fill="#9a238e"/>
<rect x="392.79" y="316.04" width="5.35" height="7.2" fill="#16b2d8"/>
<rect x="398.12" y="316.04" width="0.91" height="7.2" fill="#9a238e"/>
<rect x="399.01" y="316.04" width="5.35" height="7.2" fill="#16b2d8"/>
<rect x="404.34" y="316.04" width="0.91" height="7.2" fill="#9a238e"/>
<rect x="405.23" y="316.04" width="1.8" height="7.2" fill="#16b2d8"/>
<rect x="407.01" y="316.04" width="0.91" height="7.2" fill="#9a238e"/>
<rect x="407.9" y="316.04" width="1.8" height="7.2" fill="#16b2d8"/>
<rect x="409.68" y="316.04" width="1.8" height="7.2" fill="#9a238e"/>
<rect x="411.45" y="316.04" width="1.8" height="7.2" fill="#16b2d8"/>
<rect x="413.23" y="316.04" width="1.8" height="7.2" fill="#9a238e"/>
<rect x="415.01" y="316.04" width="0.91" height="7.2" fill="#16b2d8"/>
<rect x="415.9" y="316.04" width="0.91" height="7.2" fill="#9a238e"/>
<rect x="416.78" y="316.04" width="7.13" height="7.2" fill="#16b2d8"/>
<rect x="423.89" y="316.04" width="0.91" height="7.2" fill="#9a238e"/>
<rect x="424.78" y="316.04" width="0.91" height="7.2" fill="#16b2d8"/>
<rect x="425.67" y="316.04" width="0.91" height="7.2" fill="#9a238e"/>
<rect x="426.56" y="316.04" width="3.57" height="7.2" fill="#16b2d8"/>
<rect x="430.11" y="316.04" width="1.8" height="7.2" fill="#9a238e"/>
<rect x="431.89" y="316.04" width="0.91" height="7.2" fill="#16b2d8"/>
<rect x="432.78" y="316.04" width="0.91" height="7.2" fill="#9a238e"/>
<rect x="433.67" y="316.04" width="1.8" height="7.2" fill="#16b2d8"/>
<rect x="435.45" y="316.04" width="2.69" height="7.2" fill="#9a238e"/>
<rect x="438.11" y="316.04" width="0.91" height="7.2" fill="#16b2d8"/>
<rect x="64" y="323.22" width="0.91" height="7.2" fill="#9a238e"/>
<rect x="64.89" y="323.22" width="0.91" height="7.2" fill="#16b2d8"/>
<rect x="65.78" y="323.22" width="6.24" height="7.2" fill="#9a238e"/>
<rect x="72" y="323.22" width="24.01" height="7.2" fill="#16b2d8"/>
<rect x="95.99" y="323.22" width="2.69" height="7.2" fill="#9a238e"/>
<rect x="98.66" y="323.22" width="2.69" height="7.2" fill="#16b2d8"/>
<rect x="101.32" y="323.22" width="0.91" height="7.2" fill="#9a238e"/>
<rect x="102.21" y="323.22" width="62.22" height="7.2" fill="#16b2d8"/>
<rect x="164.41" y="323.22" width="11.57" height="7.2" fill="#9a238e"/>
<rect x="175.97" y="323.22" width="0.91" height="7.2" fill="#16b2d8"/>
<rect x="176.86" y="323.22" width="10.68" height="7.2" fill="#9a238e"/>
<rect x="187.52" y="323.22" width="0.91" height="7.2" fill="#16b2d8"/>
<rect x="188.41" y="323.22" width="19.57" height="7.2" fill="#9a238e"/>
<rect x="207.96" y="323.22" width="0.91" height="7.2" fill="#16b2d8"/>
<rect x="208.85" y="323.22" width="5.35" height="7.2" fill="#9a238e"/>
<rect x="214.18" y="323.22" width="0.91" height="7.2" fill="#16b2d8"/>
<rect x="215.07" y="323.22" width="4.46" height="7.2" fill="#9a238e"/>
<rect x="219.51" y="323.22" width="0.91" height="7.2" fill="#16b2d8"/>
<rect x="220.4" y="323.22" width="5.35" height="7.2" fill="#9a238e"/>
<rect x="225.73" y="323.22" width="0.91" height="7.2" fill="#16b2d8"/>
<rect x="226.62" y="323.22" width="9.79" height="7.2" fill="#9a238e"/>
<rect x="236.39" y="323.22" width="2.69" height="7.2" fill="#16b2d8"/>
<rect x="239.06" y="323.22" width="1.8" height="7.2" fill="#9a238e"/>
<rect x="240.84" y="323.22" width="1.8" height="7.2" fill="#16b2d8"/>
<rect x="242.61" y="323.22" width="1.8" height="7.2" fill="#9a238e"/>
<rect x="244.39" y="323.22" width="0.91" height="7.2" fill="#16b2d8"/>
<rect x="245.28" y="323.22" width="3.57" height="7.2" fill="#9a238e"/>
<rect x="248.83" y="323.22" width="0.91" height="7.2" fill="#16b2d8"/>
<rect x="249.72" y="323.22" width="0.91" height="7.2" fill="#9a238e"/>
<rect x="250.61" y="323.22" width="0.91" height="7.2" fill="#16b2d8"/>
<rect x="251.5" y="323.22" width="1.8" height="7.2" fill="#9a238e"/>
<rect x="253.28" y="323.22" width="2.69" height="7.2" fill="#16b2d8"/>
<rect x="255.94" y="323.22" width="2.69" height="7.2" fill="#9a238e"/>
<rect x="258.61" y="323.22" width="0.91" height="7.2" fill="#16b2d8"/>
<rect x="259.5" y="323.22" width="0.91" height="7.2" fill="#9a238e"/>
<rect x="260.39" y="323.22" width="1.8" height="7.2" fill="#16b2d8"/>
<rect x="262.16" y="323.22" width="26.68" height="7.2" fill="#9a238e"/>
<rect x="288.82" y="323.22" width="0.91" height="7.2" fill="#16b2d8"/>
<rect x="289.71" y="323.22" width="8.02" height="7.2" fill="#9a238e"/>
<rect x="297.71" y="323.22" width="0.91" height="7.2" fill="#16b2d8"/>
<rect x="298.6" y="323.22" width="22.24" height="7.2" fill="#9a238e"/>
<rect x="320.81" y="323.22" width="2.69" height="7.2" fill="#16b2d8"/>
<rect x="323.48" y="323.22" width="5.35" height="7.2" fill="#9a238e"/>
<rect x="328.81" y="323.22" width="0.91" height="7.2" fill="#16b2d8"/>
<rect x="329.7" y="323.22" width="0.91" height="7.2" fill="#9a238e"/>
<rect x="330.59" y="323.22" width="0.91" height="7.2" fill="#16b2d8"/>
<rect x="331.48" y="323.22" width="1.8" height="7.2" fill="#9a238e"/>
<rect x="333.25" y="323.22" width="3.57" height="7.2" fill="#16b2d8"/>
<rect x="336.81" y="323.22" width="1.8" height="7.2" fill="#9a238e"/>
<rect x="338.59" y="323.22" width="4.46" height="7.2" fill="#16b2d8"/>
<rect x="343.03" y="323.22" width="2.69" height="7.2" fill="#9a238e"/>
<rect x="345.69" y="323.22" width="1.8" height="7.2" fill="#16b2d8"/>
<rect x="347.47" y="323.22" width="9.79" height="7.2" fill="#9a238e"/>
<rect x="357.25" y="323.22" width="9.79" height="7.2" fill="#16b2d8"/>
<rect x="367.02" y="323.22" width="4.46" height="7.2" fill="#9a238e"/>
<rect x="371.46" y="323.22" width="6.24" height="7.2" fill="#16b2d8"/>
<rect x="377.68" y="323.22" width="14.24" height="7.2" fill="#9a238e"/>
<rect x="391.9" y="323.22" width="10.68" height="7.2" fill="#16b2d8"/>
<rect x="402.57" y="323.22" width="4.46" height="7.2" fill="#9a238e"/>
<rect x="407.01" y="323.22" width="8.91" height="7.2" fill="#16b2d8"/>
<rect x="415.9" y="323.22" width="2.69" height="7.2" fill="#9a238e"/>
<rect x="418.56" y="323.22" width="20.46" height="7.2" fill="#16b2d8"/>
<rect x="64" y="330.4" width="64" height="7.2" fill="#9a238e"/>
<rect x="127.98" y="330.4" width="0.91" height="7.2" fill="#16b2d8"/>
<rect x="128.87" y="330.4" width="35.57" height="7.2" fill="#9a238e"/>
<rect x="164.41" y="330.4" width="0.91" height="7.2" fill="#16b2d8"/>
<rect x="165.3" y="330.4" width="0.91" height="7.2" fill="#9a238e"/>
<rect x="166.19" y="330.4" width="1.8" height="7.2" fill="#16b2d8"/>
<rect x="167.97" y="330.4" width="0.91" height="7.2" fill="#9a238e"/>
<rect x="168.86" y="330.4" width="4.46" height="7.2" fill="#16b2d8"/>
<rect x="173.3" y="330.4" width="1.8" height="7.2" fill="#9a238e"/>
<rect x="175.08" y="330.4" width="0.91" height="7.2" fill="#16b2d8"/>
<rect x="175.97" y="330.4" width="0.91" height="7.2" fill="#9a238e"/>
<rect x="176.86" y="330.4" width="1.8" height="7.2" fill="#16b2d8"/>
<rect x="178.63" y="330.4" width="1.8" height="7.2" fill="#9a238e"/>
<rect x="180.41" y="330.4" width="2.69" height="7.2" fill="#16b2d8"/>
<rect x="183.08" y="330.4" width="2.69" height="7.2" fill="#9a238e"/>
<rect x="185.74" y="330.4" width="0.91" height="7.2" fill="#16b2d8"/>
<rect x="186.63" y="330.4" width="1.8" height="7.2" fill="#9a238e"/>
<rect x="188.41" y="330.4" width="1.8" height="7.2" fill="#16b2d8"/>
<rect x="190.18" y="330.4" width="0.91" height="7.2" fill="#9a238e"/>
<rect x="191.07" y="330.4" width="0.91" height="7.2" fill="#16b2d8"/>
<rect x="191.96" y="330.4" width="1.8" height="7.2" fill="#9a238e"/>
<rect x="193.74" y="330.4" width="0.91" height="7.2" fill="#16b2d8"/>
<rect x="194.63" y="330.4" width="1.8" height="7.2" fill="#9a238e"/>
<rect x="196.41" y="330.4" width="3.57" height="7.2" fill="#16b2d8"/>
<rect x="199.96" y="330.4" width="0.91" height="7.2" fill="#9a238e"/>
<rect x="200.85" y="330.4" width="4.46" height="7.2" fill="#16b2d8"/>
<rect x="205.29" y="330.4" width="1.8" height="7.2" fill="#9a238e"/>
<rect x="207.07" y="330.4" width="1.8" height="7.2" fill="#16b2d8"/>
<rect x="208.85" y="330.4" width="0.91" height="7.2" fill="#9a238e"/>
<rect x="209.73" y="330.4" width="6.24" height="7.2" fill="#16b2d8"/>
<rect x="215.95" y="330.4" width="0.91" height="7.2" fill="#9a238e"/>
<rect x="216.84" y="330.4" width="1.8" height="7.2" fill="#16b2d8"/>
<rect x="218.62" y="330.4" width="2.69" height="7.2" fill="#9a238e"/>
<rect x="221.29" y="330.4" width="0.91" height="7.2" fill="#16b2d8"/>
<rect x="222.18" y="330.4" width="0.91" height="7.2" fill="#9a238e"/>
<rect x="223.06" y="330.4" width="0.91" height="7.2" fill="#16b2d8"/>
<rect x="223.95" y="330.4" width="1.8" height="7.2" fill="#9a238e"/>
<rect x="225.73" y="330.4" width="2.69" height="7.2" fill="#16b2d8"/>
<rect x="228.4" y="330.4" width="0.91" height="7.2" fill="#9a238e"/>
<rect x="229.28" y="330.4" width="0.91" height="7.2" fill="#16b2d8"/>
<rect x="230.17" y="330.4" width="0.91" height="7.2" fill="#9a238e"/>
<rect x="231.06" y="330.4" width="2.69" height="7.2" fill="#16b2d8"/>
<rect x="233.73" y="330.4" width="0.91" height="7.2" fill="#9a238e"/>
<rect x="234.62" y="330.4" width="0.91" height="7.2" fill="#16b2d8"/>
<rect x="235.5" y="330.4" width="0.91" height="7.2" fill="#9a238e"/>
<rect x="236.39" y="330.4" width="0.91" height="7.2" fill="#16b2d8"/>
<rect x="237.28" y="330.4" width="1.8" height="7.2" fill="#9a238e"/>
<rect x="239.06" y="330.4" width="7.13" height="7.2" fill="#16b2d8"/>
<rect x="246.17" y="330.4" width="0.91" height="7.2" fill="#9a238e"/>
<rect x="247.06" y="330.4" width="1.8" height="7.2" fill="#16b2d8"/>
<rect x="248.83" y="330.4" width="0.91" height="7.2" fill="#9a238e"/>
<rect x="249.72" y="330.4" width="2.69" height="7.2" fill="#16b2d8"/>
<rect x="252.39" y="330.4" width="0.91" height="7.2" fill="#9a238e"/>
<rect x="253.28" y="330.4" width="2.69" height="7.2" fill="#16b2d8"/>
<rect x="255.94" y="330.4" width="1.8" height="7.2" fill="#9a238e"/>
<rect x="257.72" y="330.4" width="0.91" height="7.2" fill="#16b2d8"/>
<rect x="258.61" y="330.4" width="1.8" height="7.2" fill="#9a238e"/>
<rect x="260.39" y="330.4" width="0.91" height="7.2" fill="#16b2d8"/>
<rect x="261.27" y="330.4" width="3.57" height="7.2" fill="#9a238e"/>
<rect x="264.83" y="330.4" width="2.69" height="7.2" fill="#16b2d8"/>
<rect x="267.5" y="330.4" width="0.91" height="7.2" fill="#9a238e"/>
<rect x="268.38" y="330.4" width="0.91" height="7.2" fill="#16b2d8"/>
<rect x="269.27" y="330.4" width="0.91" height="7.2" fill="#9a238e"/>
<rect x="270.16" y="330.4" width="0.91" height="7.2" fill="#16b2d8"/>
<rect x="271.05" y="330.4" width="0.91" height="7.2" fill="#9a238e"/>
<rect x="271.94" y="330.4" width="1.8" height="7.2" fill="#16b2d8"/>
<rect x="273.72" y="330.4" width="0.91" height="7.2" fill="#9a238e"/>
<rect x="274.6" y="330.4" width="3.57" height="7.2" fill="#16b2d8"/>
<rect x="278.16" y="330.4" width="0.91" height="7.2" fill="#9a238e"/>
<rect x="279.05" y="330.4" width="1.8" height="7.2" fill="#16b2d8"/>
<rect x="280.82" y="330.4" width="0.91" height="7.2" fill="#9a238e"/>
<rect x="281.71" y="330.4" width="1.8" height="7.2" fill="#16b2d8"/>
<rect x="283.49" y="330.4" width="0.91" height="7.2" fill="#9a238e"/>
<rect x="284.38" y="330.4" width="1.8" height="7.2" fill="#16b2d8"/>
<rect x="286.16" y="330.4" width="1.8" height="7.2" fill="#9a238e"/>
<rect x="287.93" y="330.4" width="2.69" height="7.2" fill="#16b2d8"/>
<rect x="290.6" y="330.4" width="0.91" height="7.2" fill="#9a238e"/>
<rect x="291.49" y="330.4" width="2.69" height="7.2" fill="#16b2d8"/>
<rect x="294.15" y="330.4" width="0.91" height="7.2" fill="#9a238e"/>
<rect x="295.04" y="330.4" width="8.02" height="7.2" fill="#16b2d8"/>
<rect x="303.04" y="330.4" width="1.8" height="7.2" fill="#9a238e"/>
<rect x="304.82" y="330.4" width="0.91" height="7.2" fill="#16b2d8"/>
<rect x="305.71" y="330.4" width="1.8" height="7.2" fill="#9a238e"/>
<rect x="307.48" y="330.4" width="1.8" height="7.2" fill="#16b2d8"/>
<rect x="309.26" y="330.4" width="0.91" height="7.2" fill="#9a238e"/>
<rect x="310.15" y="330.4" width="3.57" height="7.2" fill="#16b2d8"/>
<rect x="313.7" y="330.4" width="1.8" height="7.2" fill="#9a238e"/>
<rect x="315.48" y="330.4" width="0.91" height="7.2" fill="#16b2d8"/>
<rect x="316.37" y="330.4" width="0.91" height="7.2" fill="#9a238e"/>
<rect x="317.26" y="330.4" width="0.91" height="7.2" fill="#16b2d8"/>
<rect x="318.15" y="330.4" width="4.46" height="7.2" fill="#9a238e"/>
<rect x="322.59" y="330.4" width="1.8" height="7.2" fill="#16b2d8"/>
<rect x="324.37" y="330.4" width="3.57" height="7.2" fill="#9a238e"/>
<rect x="327.92" y="330.4" width="0.91" height="7.2" fill="#16b2d8"/>
<rect x="328.81" y="330.4" width="6.24" height="7.2" fill="#9a238e"/>
<rect x="335.03" y="330.4" width="0.91" height="7.2" fill="#16b2d8"/>
<rect x="335.92" y="330.4" width="0.91" height="7.2" fill="#9a238e"/>
<rect x="336.81" y="330.4" width="2.69" height="7.2" fill="#16b2d8"/>
<rect x="339.47" y="330.4" width="0.91" height="7.2" fill="#9a238e"/>
<rect x="340.36" y="330.4" width="0.91" height="7.2" fill="#16b2d8"/>
<rect x="341.25" y="330.4" width="3.57" height="7.2" fill="#9a238e"/>
<rect x="344.81" y="330.4" width="1.8" height="7.2" fill="#16b2d8"/>
<rect x="346.58" y="330.4" width="0.91" height="7.2" fill="#9a238e"/>
<rect x="347.47" y="330.4" width="0.91" height="7.2" fill="#16b2d8"/>
<rect x="348.36" y="330.4" width="0.91" height="7.2" fill="#9a238e"/>
<rect x="349.25" y="330.4" width="2.69" height="7.2" fill="#16b2d8"/>
<rect x="351.91" y="330.4" width="6.24" height="7.2" fill="#9a238e"/>
<rect x="358.14" y="330.4" width="8.02" height="7.2" fill="#16b2d8"/>
<rect x="366.13" y="330.4" width="5.35" height="7.2" fill="#9a238e"/>
<rect x="371.46" y="330.4" width="3.57" height="7.2" fill="#16b2d8"/>
<rect x="375.02" y="330.4" width="0.91" height="7.2" fill="#9a238e"/>
<rect x="375.91" y="330.4" width="1.8" height="7.2" fill="#16b2d8"/>
<rect x="377.68" y="330.4" width="14.24" height="7.2" fill="#9a238e"/>
<rect x="391.9" y="330.4" width="7.13" height="7.2" fill="#16b2d8"/>
<rect x="399.01" y="330.4" width="0.91" height="7.2" fill="#9a238e"/>
<rect x="399.9" y="330.4" width="2.69" height="7.2" fill="#16b2d8"/>
<rect x="402.57" y="330.4" width="5.35" height="7.2" fill="#9a238e"/>
<rect x="407.9" y="330.4" width="0.91" height="7.2" fill="#16b2d8"/>
<rect x="408.79" y="330.4" width="0.91" height="7.2" fill="#9a238e"/>
<rect x="409.68" y="330.4" width="0.91" height="7.2" fill="#16b2d8"/>
<rect x="410.56" y="330.4" width="0.91" height="7.2" fill="#9a238e"/>
<rect x="411.45" y="330.4" width="1.8" height="7.2" fill="#16b2d8"/>
<rect x="413.23" y="330.4" width="0.91" height="7.2" fill="#9a238e"/>
<rect x="414.12" y="330.4" width="0.91" height="7.2" fill="#16b2d8"/>
<rect x="415.01" y="330.4" width="4.46" height="7.2" fill="#9a238e"/>
<rect x="419.45" y="330.4" width="3.57" height="7.2" fill="#16b2d8"/>
<rect x="423" y="330.4" width="0.91" height="7.2" fill="#9a238e"/>
<rect x="423.89" y="330.4" width="3.57" height="7.2" fill="#16b2d8"/>
<rect x="427.45" y="330.4" width="1.8" height="7.2" fill="#9a238e"/>
<rect x="429.23" y="330.4" width="6.24" height="7.2" fill="#16b2d8"/>
<rect x="435.45" y="330.4" width="1.8" height="7.2" fill="#9a238e"/>
<rect x="437.22" y="330.4" width="0.91" height="7.2" fill="#16b2d8"/>
<rect x="438.11" y="330.4" width="0.91" height="7.2" fill="#9a238e"/>
<rect x="64" y="337.58" width="8.02" height="7.2" fill="#9a238e"/>
<rect x="72" y="337.58" width="24.01" height="7.2" fill="#16b2d8"/>
<rect x="95.99" y="337.58" width="2.69" height="7.2" fill="#9a238e"/>
<rect x="98.66" y="337.58" width="2.69" height="7.2" fill="#16b2d8"/>
<rect x="101.32" y="337.58" width="0.91" height="7.2" fill="#9a238e"/>
<rect x="102.21" y="337.58" width="62.22" height="7.2" fill="#16b2d8"/>
<rect x="164.41" y="337.58" width="159.97" height="7.2" fill="#9a238e"/>
<rect x="324.37" y="337.58" width="1.8" height="7.2" fill="#16b2d8"/>
<rect x="326.14" y="337.58" width="4.46" height="7.2" fill="#9a238e"/>
<rect x="330.59" y="337.58" width="2.69" height="7.2" fill="#16b2d8"/>
<rect x="333.25" y="337.58" width="3.57" height="7.2" fill="#9a238e"/>
<rect x="336.81" y="337.58" width="3.57" height="7.2" fill="#16b2d8"/>
<rect x="340.36" y="337.58" width="3.57" height="7.2" fill="#9a238e"/>
<rect x="343.92" y="337.58" width="2.69" height="7.2" fill="#16b2d8"/>
<rect x="346.58" y="337.58" width="10.68" height="7.2" fill="#9a238e"/>
<rect x="357.25" y="337.58" width="9.79" height="7.2" fill="#16b2d8"/>
<rect x="367.02" y="337.58" width="4.46" height="7.2" fill="#9a238e"/>
<rect x="371.46" y="337.58" width="6.24" height="7.2" fill="#16b2d8"/>
<rect x="377.68" y="337.58" width="14.24" height="7.2" fill="#9a238e"/>
<rect x="391.9" y="337.58" width="10.68" height="7.2" fill="#16b2d8"/>
<rect x="402.57" y="337.58" width="4.46" height="7.2" fill="#9a238e"/>
<rect x="407.01" y="337.58" width="8.91" height="7.2" fill="#16b2d8"/>
<rect x="415.9" y="337.58" width="2.69" height="7.2" fill="#9a238e"/>
<rect x="418.56" y="337.58" width="20.46" height="7.2" fill="#16b2d8"/>
<text x="57.8" y="299.9" font-size="6.5" text-anchor="end" fill="#333" textLength="9.5" lengthAdjust="spacingAndGlyphs">Sex</text>
<text x="57.8" y="307.08" font-size="6.5" text-anchor="end" fill="#333" textLength="36.6" lengthAdjust="spacingAndGlyphs">Age Category</text>
<text x="57.8" y="314.26" font-size="6.5" text-anchor="end" fill="#333" textLength="50.8" lengthAdjust="spacingAndGlyphs">Complex Karyotype</text>
<text x="57.8" y="321.44" font-size="6.5" text-anchor="end" fill="#333" textLength="38" lengthAdjust="spacingAndGlyphs">WHO-MR-CG</text>
<text x="57.8" y="328.62" font-size="6.5" text-anchor="end" fill="#333" textLength="33.6" lengthAdjust="spacingAndGlyphs">WHO-MR-M</text>
<text x="57.8" y="335.8" font-size="6.5" text-anchor="end" fill="#333" textLength="33.4" lengthAdjust="spacingAndGlyphs">ICC-MR-CG</text>
<text x="57.8" y="342.98" font-size="6.5" text-anchor="end" fill="#333" textLength="28.9" lengthAdjust="spacingAndGlyphs">ICC-MR-M</text>
<text x="470" y="266.8" font-size="6.4" text-anchor="start" fill="#222" textLength="27.4" lengthAdjust="spacingAndGlyphs">Alterations</text>
<rect x="470.2" y="271.8" width="6.3" height="6.5" fill="#1a8cc0"/>
<text x="479.2" y="276.9" font-size="6.4" text-anchor="start" fill="#222" textLength="12.56" lengthAdjust="spacingAndGlyphs">MUT</text>
<text x="470" y="292.2" font-size="6.4" text-anchor="start" fill="#222" textLength="18.69" lengthAdjust="spacingAndGlyphs">Clinical</text>
<rect x="469.9" y="297" width="6.6" height="6.8" fill="#e0141e"/>
<text x="480" y="302.6" font-size="6.4" text-anchor="start" fill="#222" textLength="12.57" lengthAdjust="spacingAndGlyphs">Male</text>
<rect x="469.9" y="305.15" width="6.6" height="6.8" fill="#1862a8"/>
<text x="480" y="310.75" font-size="6.4" text-anchor="start" fill="#222" textLength="19.34" lengthAdjust="spacingAndGlyphs">Female</text>
<rect x="469.9" y="313.3" width="6.6" height="6.8" fill="#12a03c"/>
<text x="480" y="318.9" font-size="6.4" text-anchor="start" fill="#222" textLength="12.53" lengthAdjust="spacingAndGlyphs">≥70y</text>
<rect x="469.9" y="321.45" width="6.6" height="6.8" fill="#f8960c"/>
<text x="480" y="327.05" font-size="6.4" text-anchor="start" fill="#222" textLength="12.74" lengthAdjust="spacingAndGlyphs">&lt;70y</text>
<rect x="469.9" y="329.6" width="6.6" height="6.8" fill="#9a238e"/>
<text x="480" y="335.2" font-size="6.4" text-anchor="start" fill="#222" textLength="9.46" lengthAdjust="spacingAndGlyphs">Yes</text>
<rect x="469.9" y="337.75" width="6.6" height="6.8" fill="#16b2d8"/>
<text x="480" y="343.35" font-size="6.4" text-anchor="start" fill="#222" textLength="7.41" lengthAdjust="spacingAndGlyphs">No</text>
<text x="6.5" y="390.9" font-size="10.8" text-anchor="start" fill="#111" font-weight="bold">B</text>
<text x="54.82" y="398.62" font-size="3.6" text-anchor="middle" fill="#604840">−0.13</text>
<ellipse cx="54.82" cy="408.26" rx="3.8" ry="2.6" fill="#f7d7c8"/>
<text x="54.82" y="409.46" font-size="3.6" text-anchor="middle" fill="#8a4a38">−0.2</text>
<ellipse cx="54.82" cy="419.1" rx="3.8" ry="2.6" fill="#f0b9a0"/>
<text x="54.82" y="420.3" font-size="3.6" text-anchor="middle" fill="#8a4a38">−0.26</text>
<text x="65.66" y="420.3" font-size="3.6" text-anchor="middle" fill="#44505a">0.19</text>
<ellipse cx="76.5" cy="419.1" rx="3.8" ry="2.6" fill="#91bcdc"/>
<text x="76.5" y="420.3" font-size="3.6" text-anchor="middle" fill="#2c4f78">0.3</text>
<ellipse cx="54.82" cy="429.94" rx="3.8" ry="2.6" fill="#f0b9a0"/>
<text x="54.82" y="431.14" font-size="3.6" text-anchor="middle" fill="#8a4a38">−0.34</text>
<ellipse cx="76.5" cy="429.94" rx="3.8" ry="2.6" fill="#c6dcec"/>
<text x="76.5" y="431.14" font-size="3.6" text-anchor="middle" fill="#2c4f78">0.21</text>
<ellipse cx="87.34" cy="429.94" rx="3.8" ry="2.6" fill="#91bcdc"/>
<text x="87.34" y="431.14" font-size="3.6" text-anchor="middle" fill="#2c4f78">0.33</text>
<text x="54.82" y="441.98" font-size="3.6" text-anchor="middle" fill="#604840">−0.18</text>
<text x="65.66" y="441.98" font-size="3.6" text-anchor="middle" fill="#44505a">0.12</text>
<ellipse cx="76.5" cy="440.78" rx="3.8" ry="2.6" fill="#aacae4"/>
<text x="76.5" y="441.98" font-size="3.6" text-anchor="middle" fill="#2c4f78">0.27</text>
<ellipse cx="87.34" cy="440.78" rx="3.8" ry="2.6" fill="#91bcdc"/>
<text x="87.34" y="441.98" font-size="3.6" text-anchor="middle" fill="#2c4f78">0.35</text>
<ellipse cx="98.18" cy="440.78" rx="3.8" ry="2.6" fill="#6ea5cd"/>
<text x="98.18" y="441.98" font-size="3.6" text-anchor="middle" fill="#2c4f78">0.4</text>
<ellipse cx="54.82" cy="451.62" rx="3.8" ry="2.6" fill="#f7d7c8"/>
<text x="54.82" y="452.82" font-size="3.6" text-anchor="middle" fill="#8a4a38">−0.21</text>
<ellipse cx="87.34" cy="451.62" rx="3.8" ry="2.6" fill="#c6dcec"/>
<text x="87.34" y="452.82" font-size="3.6" text-anchor="middle" fill="#2c4f78">0.24</text>
<ellipse cx="98.18" cy="451.62" rx="3.8" ry="2.6" fill="#aacae4"/>
<text x="98.18" y="452.82" font-size="3.6" text-anchor="middle" fill="#2c4f78">0.26</text>
<text x="54.82" y="463.66" font-size="3.6" text-anchor="middle" fill="#604840">−0.16</text>
<ellipse cx="119.86" cy="462.46" rx="3.8" ry="2.6" fill="#c6dcec"/>
<text x="119.86" y="463.66" font-size="3.6" text-anchor="middle" fill="#2c4f78">0.21</text>
<text x="119.86" y="474.5" font-size="3.6" text-anchor="middle" fill="#44505a">0.14</text>
<text x="76.5" y="496.18" font-size="3.6" text-anchor="middle" fill="#44505a">0.15</text>
<text x="54.82" y="507.02" font-size="3.6" text-anchor="middle" fill="#604840">−0.16</text>
<text x="163.22" y="507.02" font-size="3.6" text-anchor="middle" fill="#44505a">0.16</text>
<text x="54.82" y="517.86" font-size="3.6" text-anchor="middle" fill="#604840">−0.13</text>
<text x="87.34" y="517.86" font-size="3.6" text-anchor="middle" fill="#44505a">0.2</text>
<text x="98.18" y="528.7" font-size="3.6" text-anchor="middle" fill="#44505a">0.12</text>
<text x="163.22" y="528.7" font-size="3.6" text-anchor="middle" fill="#44505a">0.17</text>
<text x="163.22" y="539.54" font-size="3.6" text-anchor="middle" fill="#44505a">0.15</text>
<text x="98.18" y="550.38" font-size="3.6" text-anchor="middle" fill="#44505a">0.13</text>
<text x="119.86" y="550.38" font-size="3.6" text-anchor="middle" fill="#44505a">0.17</text>
<text x="109.02" y="572.06" font-size="3.6" text-anchor="middle" fill="#44505a">0.13</text>
<text x="174.06" y="572.06" font-size="3.6" text-anchor="middle" fill="#44505a">0.14</text>
<text x="54.82" y="582.9" font-size="3.6" text-anchor="middle" fill="#604840">−0.15</text>
<text x="87.34" y="582.9" font-size="3.6" text-anchor="middle" fill="#604840">−0.14</text>
<text x="174.06" y="582.9" font-size="3.6" text-anchor="middle" fill="#44505a">0.16</text>
<text x="249.94" y="593.74" font-size="3.6" text-anchor="middle" fill="#44505a">0.17</text>
<g stroke="#555" stroke-width="0.62" fill="none">
<rect x="49.4" y="392" width="10.84" height="10.84"/>
<rect x="49.4" y="402.84" width="10.84" height="10.84"/>
<rect x="60.24" y="402.84" width="10.84" height="10.84"/>
<rect x="49.4" y="413.68" width="10.84" height="10.84"/>
<rect x="60.24" y="413.68" width="10.84" height="10.84"/>
<rect x="71.08" y="413.68" width="10.84" height="10.84"/>
<rect x="49.4" y="424.52" width="10.84" height="10.84"/>
<rect x="60.24" y="424.52" width="10.84" height="10.84"/>
<rect x="71.08" y="424.52" width="10.84" height="10.84"/>
<rect x="81.92" y="424.52" width="10.84" height="10.84"/>
<rect x="49.4" y="435.36" width="10.84" height="10.84"/>
<rect x="60.24" y="435.36" width="10.84" height="10.84"/>
<rect x="71.08" y="435.36" width="10.84" height="10.84"/>
<rect x="81.92" y="435.36" width="10.84" height="10.84"/>
<rect x="92.76" y="435.36" width="10.84" height="10.84"/>
<rect x="49.4" y="446.2" width="10.84" height="10.84"/>
<rect x="60.24" y="446.2" width="10.84" height="10.84"/>
<rect x="71.08" y="446.2" width="10.84" height="10.84"/>
<rect x="81.92" y="446.2" width="10.84" height="10.84"/>
<rect x="92.76" y="446.2" width="10.84" height="10.84"/>
<rect x="103.6" y="446.2" width="10.84" height="10.84"/>
<rect x="49.4" y="457.04" width="10.84" height="10.84"/>
<rect x="60.24" y="457.04" width="10.84" height="10.84"/>
<rect x="71.08" y="457.04" width="10.84" height="10.84"/>
<rect x="81.92" y="457.04" width="10.84" height="10.84"/>
<rect x="92.76" y="457.04" width="10.84" height="10.84"/>
<rect x="103.6" y="457.04" width="10.84" height="10.84"/>
<rect x="114.44" y="457.04" width="10.84" height="10.84"/>
<rect x="49.4" y="467.88" width="10.84" height="10.84"/>
<rect x="60.24" y="467.88" width="10.84" height="10.84"/>
<rect x="71.08" y="467.88" width="10.84" height="10.84"/>
<rect x="81.92" y="467.88" width="10.84" height="10.84"/>
<rect x="92.76" y="467.88" width="10.84" height="10.84"/>
<rect x="103.6" y="467.88" width="10.84" height="10.84"/>
<rect x="114.44" y="467.88" width="10.84" height="10.84"/>
<rect x="125.28" y="467.88" width="10.84" height="10.84"/>
<rect x="49.4" y="478.72" width="10.84" height="10.84"/>
<rect x="60.24" y="478.72" width="10.84" height="10.84"/>
<rect x="71.08" y="478.72" width="10.84" height="10.84"/>
<rect x="81.92" y="478.72" width="10.84" height="10.84"/>
<rect x="92.76" y="478.72" width="10.84" height="10.84"/>
<rect x="103.6" y="478.72" width="10.84" height="10.84"/>
<rect x="114.44" y="478.72" width="10.84" height="10.84"/>
<rect x="125.28" y="478.72" width="10.84" height="10.84"/>
<rect x="136.12" y="478.72" width="10.84" height="10.84"/>
<rect x="49.4" y="489.56" width="10.84" height="10.84"/>
<rect x="60.24" y="489.56" width="10.84" height="10.84"/>
<rect x="71.08" y="489.56" width="10.84" height="10.84"/>
<rect x="81.92" y="489.56" width="10.84" height="10.84"/>
<rect x="92.76" y="489.56" width="10.84" height="10.84"/>
<rect x="103.6" y="489.56" width="10.84" height="10.84"/>
<rect x="114.44" y="489.56" width="10.84" height="10.84"/>
<rect x="125.28" y="489.56" width="10.84" height="10.84"/>
<rect x="136.12" y="489.56" width="10.84" height="10.84"/>
<rect x="146.96" y="489.56" width="10.84" height="10.84"/>
<rect x="49.4" y="500.4" width="10.84" height="10.84"/>
<rect x="60.24" y="500.4" width="10.84" height="10.84"/>
<rect x="71.08" y="500.4" width="10.84" height="10.84"/>
<rect x="81.92" y="500.4" width="10.84" height="10.84"/>
<rect x="92.76" y="500.4" width="10.84" height="10.84"/>
<rect x="103.6" y="500.4" width="10.84" height="10.84"/>
<rect x="114.44" y="500.4" width="10.84" height="10.84"/>
<rect x="125.28" y="500.4" width="10.84" height="10.84"/>
<rect x="136.12" y="500.4" width="10.84" height="10.84"/>
<rect x="146.96" y="500.4" width="10.84" height="10.84"/>
<rect x="157.8" y="500.4" width="10.84" height="10.84"/>
<rect x="49.4" y="511.24" width="10.84" height="10.84"/>
<rect x="60.24" y="511.24" width="10.84" height="10.84"/>
<rect x="71.08" y="511.24" width="10.84" height="10.84"/>
<rect x="81.92" y="511.24" width="10.84" height="10.84"/>
<rect x="92.76" y="511.24" width="10.84" height="10.84"/>
<rect x="103.6" y="511.24" width="10.84" height="10.84"/>
<rect x="114.44" y="511.24" width="10.84" height="10.84"/>
<rect x="125.28" y="511.24" width="10.84" height="10.84"/>
<rect x="136.12" y="511.24" width="10.84" height="10.84"/>
<rect x="146.96" y="511.24" width="10.84" height="10.84"/>
<rect x="157.8" y="511.24" width="10.84" height="10.84"/>
<rect x="168.64" y="511.24" width="10.84" height="10.84"/>
<rect x="49.4" y="522.08" width="10.84" height="10.84"/>
<rect x="60.24" y="522.08" width="10.84" height="10.84"/>
<rect x="71.08" y="522.08" width="10.84" height="10.84"/>
<rect x="81.92" y="522.08" width="10.84" height="10.84"/>
<rect x="92.76" y="522.08" width="10.84" height="10.84"/>
<rect x="103.6" y="522.08" width="10.84" height="10.84"/>
<rect x="114.44" y="522.08" width="10.84" height="10.84"/>
<rect x="125.28" y="522.08" width="10.84" height="10.84"/>
<rect x="136.12" y="522.08" width="10.84" height="10.84"/>
<rect x="146.96" y="522.08" width="10.84" height="10.84"/>
<rect x="157.8" y="522.08" width="10.84" height="10.84"/>
<rect x="168.64" y="522.08" width="10.84" height="10.84"/>
<rect x="179.48" y="522.08" width="10.84" height="10.84"/>
<rect x="49.4" y="532.92" width="10.84" height="10.84"/>
<rect x="60.24" y="532.92" width="10.84" height="10.84"/>
<rect x="71.08" y="532.92" width="10.84" height="10.84"/>
<rect x="81.92" y="532.92" width="10.84" height="10.84"/>
<rect x="92.76" y="532.92" width="10.84" height="10.84"/>
<rect x="103.6" y="532.92" width="10.84" height="10.84"/>
<rect x="114.44" y="532.92" width="10.84" height="10.84"/>
<rect x="125.28" y="532.92" width="10.84" height="10.84"/>
<rect x="136.12" y="532.92" width="10.84" height="10.84"/>
<rect x="146.96" y="532.92" width="10.84" height="10.84"/>
<rect x="157.8" y="532.92" width="10.84" height="10.84"/>
<rect x="168.64" y="532.92" width="10.84" height="10.84"/>
<rect x="179.48" y="532.92" width="10.84" height="10.84"/>
<rect x="190.32" y="532.92" width="10.84" height="10.84"/>
<rect x="49.4" y="543.76" width="10.84" height="10.84"/>
<rect x="60.24" y="543.76" width="10.84" height="10.84"/>
<rect x="71.08" y="543.76" width="10.84" height="10.84"/>
<rect x="81.92" y="543.76" width="10.84" height="10.84"/>
<rect x="92.76" y="543.76" width="10.84" height="10.84"/>
<rect x="103.6" y="543.76" width="10.84" height="10.84"/>
<rect x="114.44" y="543.76" width="10.84" height="10.84"/>
<rect x="125.28" y="543.76" width="10.84" height="10.84"/>
<rect x="136.12" y="543.76" width="10.84" height="10.84"/>
<rect x="146.96" y="543.76" width="10.84" height="10.84"/>
<rect x="157.8" y="543.76" width="10.84" height="10.84"/>
<rect x="168.64" y="543.76" width="10.84" height="10.84"/>
<rect x="179.48" y="543.76" width="10.84" height="10.84"/>
<rect x="190.32" y="543.76" width="10.84" height="10.84"/>
<rect x="201.16" y="543.76" width="10.84" height="10.84"/>
<rect x="49.4" y="554.6" width="10.84" height="10.84"/>
<rect x="60.24" y="554.6" width="10.84" height="10.84"/>
<rect x="71.08" y="554.6" width="10.84" height="10.84"/>
<rect x="81.92" y="554.6" width="10.84" height="10.84"/>
<rect x="92.76" y="554.6" width="10.84" height="10.84"/>
<rect x="103.6" y="554.6" width="10.84" height="10.84"/>
<rect x="114.44" y="554.6" width="10.84" height="10.84"/>
<rect x="125.28" y="554.6" width="10.84" height="10.84"/>
<rect x="136.12" y="554.6" width="10.84" height="10.84"/>
<rect x="146.96" y="554.6" width="10.84" height="10.84"/>
<rect x="157.8" y="554.6" width="10.84" height="10.84"/>
<rect x="168.64" y="554.6" width="10.84" height="10.84"/>
<rect x="179.48" y="554.6" width="10.84" height="10.84"/>
<rect x="190.32" y="554.6" width="10.84" height="10.84"/>
<rect x="201.16" y="554.6" width="10.84" height="10.84"/>
<rect x="212" y="554.6" width="10.84" height="10.84"/>
<rect x="49.4" y="565.44" width="10.84" height="10.84"/>
<rect x="60.24" y="565.44" width="10.84" height="10.84"/>
<rect x="71.08" y="565.44" width="10.84" height="10.84"/>
<rect x="81.92" y="565.44" width="10.84" height="10.84"/>
<rect x="92.76" y="565.44" width="10.84" height="10.84"/>
<rect x="103.6" y="565.44" width="10.84" height="10.84"/>
<rect x="114.44" y="565.44" width="10.84" height="10.84"/>
<rect x="125.28" y="565.44" width="10.84" height="10.84"/>
<rect x="136.12" y="565.44" width="10.84" height="10.84"/>
<rect x="146.96" y="565.44" width="10.84" height="10.84"/>
<rect x="157.8" y="565.44" width="10.84" height="10.84"/>
<rect x="168.64" y="565.44" width="10.84" height="10.84"/>
<rect x="179.48" y="565.44" width="10.84" height="10.84"/>
<rect x="190.32" y="565.44" width="10.84" height="10.84"/>
<rect x="201.16" y="565.44" width="10.84" height="10.84"/>
<rect x="212" y="565.44" width="10.84" height="10.84"/>
<rect x="222.84" y="565.44" width="10.84" height="10.84"/>
<rect x="49.4" y="576.28" width="10.84" height="10.84"/>
<rect x="60.24" y="576.28" width="10.84" height="10.84"/>
<rect x="71.08" y="576.28" width="10.84" height="10.84"/>
<rect x="81.92" y="576.28" width="10.84" height="10.84"/>
<rect x="92.76" y="576.28" width="10.84" height="10.84"/>
<rect x="103.6" y="576.28" width="10.84" height="10.84"/>
<rect x="114.44" y="576.28" width="10.84" height="10.84"/>
<rect x="125.28" y="576.28" width="10.84" height="10.84"/>
<rect x="136.12" y="576.28" width="10.84" height="10.84"/>
<rect x="146.96" y="576.28" width="10.84" height="10.84"/>
<rect x="157.8" y="576.28" width="10.84" height="10.84"/>
<rect x="168.64" y="576.28" width="10.84" height="10.84"/>
<rect x="179.48" y="576.28" width="10.84" height="10.84"/>
<rect x="190.32" y="576.28" width="10.84" height="10.84"/>
<rect x="201.16" y="576.28" width="10.84" height="10.84"/>
<rect x="212" y="576.28" width="10.84" height="10.84"/>
<rect x="222.84" y="576.28" width="10.84" height="10.84"/>
<rect x="233.68" y="576.28" width="10.84" height="10.84"/>
<rect x="49.4" y="587.12" width="10.84" height="10.84"/>
<rect x="60.24" y="587.12" width="10.84" height="10.84"/>
<rect x="71.08" y="587.12" width="10.84" height="10.84"/>
<rect x="81.92" y="587.12" width="10.84" height="10.84"/>
<rect x="92.76" y="587.12" width="10.84" height="10.84"/>
<rect x="103.6" y="587.12" width="10.84" height="10.84"/>
<rect x="114.44" y="587.12" width="10.84" height="10.84"/>
<rect x="125.28" y="587.12" width="10.84" height="10.84"/>
<rect x="136.12" y="587.12" width="10.84" height="10.84"/>
<rect x="146.96" y="587.12" width="10.84" height="10.84"/>
<rect x="157.8" y="587.12" width="10.84" height="10.84"/>
<rect x="168.64" y="587.12" width="10.84" height="10.84"/>
<rect x="179.48" y="587.12" width="10.84" height="10.84"/>
<rect x="190.32" y="587.12" width="10.84" height="10.84"/>
<rect x="201.16" y="587.12" width="10.84" height="10.84"/>
<rect x="212" y="587.12" width="10.84" height="10.84"/>
<rect x="222.84" y="587.12" width="10.84" height="10.84"/>
<rect x="233.68" y="587.12" width="10.84" height="10.84"/>
<rect x="244.52" y="587.12" width="10.84" height="10.84"/>
</g>
<text x="46.6" y="399.7" font-size="7" text-anchor="end" fill="#2e2e2e" font-style="italic" textLength="20.56" lengthAdjust="spacingAndGlyphs">CEBPA</text>
<text x="46.6" y="410.54" font-size="7" text-anchor="end" fill="#2e2e2e" font-style="italic" textLength="14.13" lengthAdjust="spacingAndGlyphs">IDH2</text>
<text x="46.6" y="421.38" font-size="7" text-anchor="end" fill="#2e2e2e" font-style="italic" textLength="19.98" lengthAdjust="spacingAndGlyphs">SRSF2</text>
<text x="46.6" y="432.22" font-size="7" text-anchor="end" fill="#2e2e2e" font-style="italic" textLength="19.3" lengthAdjust="spacingAndGlyphs">ASXL1</text>
<text x="46.6" y="443.06" font-size="7" text-anchor="end" fill="#2e2e2e" font-style="italic" textLength="19.87" lengthAdjust="spacingAndGlyphs">STAG2</text>
<text x="46.6" y="453.9" font-size="7" text-anchor="end" fill="#2e2e2e" font-style="italic" textLength="21.02" lengthAdjust="spacingAndGlyphs">RUNX1</text>
<text x="46.6" y="464.74" font-size="7" text-anchor="end" fill="#2e2e2e" font-style="italic" textLength="14.01" lengthAdjust="spacingAndGlyphs">FLT3</text>
<text x="46.6" y="475.58" font-size="7" text-anchor="end" fill="#2e2e2e" font-style="italic" textLength="18.95" lengthAdjust="spacingAndGlyphs">SF3B1</text>
<text x="46.6" y="486.42" font-size="7" text-anchor="end" fill="#2e2e2e" font-style="italic" textLength="19.41" lengthAdjust="spacingAndGlyphs">GATA2</text>
<text x="46.6" y="497.26" font-size="7" text-anchor="end" fill="#2e2e2e" font-style="italic" textLength="25.49" lengthAdjust="spacingAndGlyphs">DNMT3A</text>
<text x="46.6" y="508.1" font-size="7" text-anchor="end" fill="#2e2e2e" font-style="italic" textLength="17.91" lengthAdjust="spacingAndGlyphs">BCOR</text>
<text x="46.6" y="518.94" font-size="7" text-anchor="end" fill="#2e2e2e" font-style="italic" textLength="15.16" lengthAdjust="spacingAndGlyphs">TET2</text>
<text x="46.6" y="529.78" font-size="7" text-anchor="end" fill="#2e2e2e" font-style="italic" textLength="15.85" lengthAdjust="spacingAndGlyphs">EZH2</text>
<text x="46.6" y="540.62" font-size="7" text-anchor="end" fill="#2e2e2e" font-style="italic" textLength="14.13" lengthAdjust="spacingAndGlyphs">IDH1</text>
<text x="46.6" y="551.46" font-size="7" text-anchor="end" fill="#2e2e2e" font-style="italic" textLength="15.85" lengthAdjust="spacingAndGlyphs">PHF6</text>
<text x="46.6" y="562.3" font-size="7" text-anchor="end" fill="#2e2e2e" font-style="italic" textLength="22.97" lengthAdjust="spacingAndGlyphs">PTPN11</text>
<text x="46.6" y="573.14" font-size="7" text-anchor="end" fill="#2e2e2e" font-style="italic" textLength="17.23" lengthAdjust="spacingAndGlyphs">NRAS</text>
<text x="46.6" y="583.98" font-size="7" text-anchor="end" fill="#2e2e2e" font-style="italic" textLength="19.3" lengthAdjust="spacingAndGlyphs">U2AF1</text>
<text x="46.6" y="594.82" font-size="7" text-anchor="end" fill="#2e2e2e" font-style="italic" textLength="16.88" lengthAdjust="spacingAndGlyphs">KRAS</text>
<text transform="translate(55.62,391.6) rotate(-45)" font-size="7.0" fill="#222" textLength="14.82" lengthAdjust="spacingAndGlyphs">TP53</text>
<text transform="translate(66.46,402.44) rotate(-45)" font-size="7.0" fill="#222" textLength="20.56" lengthAdjust="spacingAndGlyphs">CEBPA</text>
<text transform="translate(77.3,413.28) rotate(-45)" font-size="7.0" fill="#222" textLength="14.13" lengthAdjust="spacingAndGlyphs">IDH2</text>
<text transform="translate(88.14,424.12) rotate(-45)" font-size="7.0" fill="#222" textLength="19.98" lengthAdjust="spacingAndGlyphs">SRSF2</text>
<text transform="translate(98.98,434.96) rotate(-45)" font-size="7.0" fill="#222" textLength="19.3" lengthAdjust="spacingAndGlyphs">ASXL1</text>
<text transform="translate(109.82,445.8) rotate(-45)" font-size="7.0" fill="#222" textLength="19.87" lengthAdjust="spacingAndGlyphs">STAG2</text>
<text transform="translate(120.66,456.64) rotate(-45)" font-size="7.0" fill="#222" textLength="21.02" lengthAdjust="spacingAndGlyphs">RUNX1</text>
<text transform="translate(131.5,467.48) rotate(-45)" font-size="7.0" fill="#222" textLength="14.01" lengthAdjust="spacingAndGlyphs">FLT3</text>
<text transform="translate(142.34,478.32) rotate(-45)" font-size="7.0" fill="#222" textLength="18.95" lengthAdjust="spacingAndGlyphs">SF3B1</text>
<text transform="translate(153.18,489.16) rotate(-45)" font-size="7.0" fill="#222" textLength="19.41" lengthAdjust="spacingAndGlyphs">GATA2</text>
<text transform="translate(164.02,500) rotate(-45)" font-size="7.0" fill="#222" textLength="25.49" lengthAdjust="spacingAndGlyphs">DNMT3A</text>
<text transform="translate(174.86,510.84) rotate(-45)" font-size="7.0" fill="#222" textLength="17.91" lengthAdjust="spacingAndGlyphs">BCOR</text>
<text transform="translate(185.7,521.68) rotate(-45)" font-size="7.0" fill="#222" textLength="15.16" lengthAdjust="spacingAndGlyphs">TET2</text>
<text transform="translate(196.54,532.52) rotate(-45)" font-size="7.0" fill="#222" textLength="15.85" lengthAdjust="spacingAndGlyphs">EZH2</text>
<text transform="translate(207.38,543.36) rotate(-45)" font-size="7.0" fill="#222" textLength="14.13" lengthAdjust="spacingAndGlyphs">IDH1</text>
<text transform="translate(218.22,554.2) rotate(-45)" font-size="7.0" fill="#222" textLength="15.85" lengthAdjust="spacingAndGlyphs">PHF6</text>
<text transform="translate(229.06,565.04) rotate(-45)" font-size="7.0" fill="#222" textLength="22.97" lengthAdjust="spacingAndGlyphs">PTPN11</text>
<text transform="translate(239.9,575.88) rotate(-45)" font-size="7.0" fill="#222" textLength="17.23" lengthAdjust="spacingAndGlyphs">NRAS</text>
<text transform="translate(250.74,586.72) rotate(-45)" font-size="7.0" fill="#222" textLength="19.3" lengthAdjust="spacingAndGlyphs">U2AF1</text>
<defs><linearGradient id="cb" x1="0" x2="1" y1="0" y2="0">
<stop offset="0" stop-color="#67001f"/>
<stop offset="0.05" stop-color="#8c0c25"/>
<stop offset="0.1" stop-color="#b2182b"/>
<stop offset="0.15" stop-color="#c43c3c"/>
<stop offset="0.2" stop-color="#d6604d"/>
<stop offset="0.25" stop-color="#e58267"/>
<stop offset="0.3" stop-color="#f4a582"/>
<stop offset="0.35" stop-color="#f8c0a4"/>
<stop offset="0.4" stop-color="#fddbc7"/>
<stop offset="0.45" stop-color="#feede3"/>
<stop offset="0.5" stop-color="#ffffff"/>
<stop offset="0.55" stop-color="#e8f2f8"/>
<stop offset="0.6" stop-color="#d1e5f0"/>
<stop offset="0.65" stop-color="#b2d5e7"/>
<stop offset="0.7" stop-color="#92c5de"/>
<stop offset="0.75" stop-color="#6bacd0"/>
<stop offset="0.8" stop-color="#4393c3"/>
<stop offset="0.85" stop-color="#327cb8"/>
<stop offset="0.9" stop-color="#2166ac"/>
<stop offset="0.95" stop-color="#134b86"/>
<stop offset="1" stop-color="#053061"/>
</linearGradient></defs>
<rect x="49.4" y="601.3" width="206" height="7.8" fill="url(#cb)" stroke="#6a6a6a" stroke-width="0.6"/>
<g stroke="#444" stroke-width="0.7">
<line x1="49.4" y1="609.1" x2="49.4" y2="612" />
<line x1="70" y1="609.1" x2="70" y2="612" />
<line x1="90.6" y1="609.1" x2="90.6" y2="612" />
<line x1="111.2" y1="609.1" x2="111.2" y2="612" />
<line x1="131.8" y1="609.1" x2="131.8" y2="612" />
<line x1="152.4" y1="609.1" x2="152.4" y2="612" />
<line x1="173" y1="609.1" x2="173" y2="612" />
<line x1="193.6" y1="609.1" x2="193.6" y2="612" />
<line x1="214.2" y1="609.1" x2="214.2" y2="612" />
<line x1="234.8" y1="609.1" x2="234.8" y2="612" />
<line x1="255.4" y1="609.1" x2="255.4" y2="612" />
</g>
<text x="49.4" y="619.8" font-size="6.3" text-anchor="middle" fill="#222" textLength="6.95" lengthAdjust="spacingAndGlyphs">−1</text>
<text x="70" y="619.8" font-size="6.3" text-anchor="middle" fill="#222" textLength="12.04" lengthAdjust="spacingAndGlyphs">−0.8</text>
<text x="90.6" y="619.8" font-size="6.3" text-anchor="middle" fill="#222" textLength="12.04" lengthAdjust="spacingAndGlyphs">−0.6</text>
<text x="111.2" y="619.8" font-size="6.3" text-anchor="middle" fill="#222" textLength="12.04" lengthAdjust="spacingAndGlyphs">−0.4</text>
<text x="131.8" y="619.8" font-size="6.3" text-anchor="middle" fill="#222" textLength="12.04" lengthAdjust="spacingAndGlyphs">−0.2</text>
<text x="152.4" y="619.8" font-size="6.3" text-anchor="middle" fill="#222" textLength="3.39" lengthAdjust="spacingAndGlyphs">0</text>
<text x="173" y="619.8" font-size="6.3" text-anchor="middle" fill="#222" textLength="8.48" lengthAdjust="spacingAndGlyphs">0.2</text>
<text x="193.6" y="619.8" font-size="6.3" text-anchor="middle" fill="#222" textLength="8.48" lengthAdjust="spacingAndGlyphs">0.4</text>
<text x="214.2" y="619.8" font-size="6.3" text-anchor="middle" fill="#222" textLength="8.48" lengthAdjust="spacingAndGlyphs">0.6</text>
<text x="234.8" y="619.8" font-size="6.3" text-anchor="middle" fill="#222" textLength="8.48" lengthAdjust="spacingAndGlyphs">0.8</text>
<text x="255.4" y="619.8" font-size="6.3" text-anchor="middle" fill="#222" textLength="3.39" lengthAdjust="spacingAndGlyphs">1</text>
<text x="50.2" y="633.5" font-size="5.8" text-anchor="start" fill="#222" textLength="51.9" lengthAdjust="spacingAndGlyphs">Negative correlation</text>
<text x="126.7" y="630.6" font-size="5.8" text-anchor="start" fill="#222" textLength="51.2" lengthAdjust="spacingAndGlyphs">Pearson Coefficient</text>
<text x="215.6" y="633.3" font-size="5.8" text-anchor="start" fill="#222" textLength="38.6" lengthAdjust="spacingAndGlyphs">Co-occurrence</text>
<text x="259" y="391.5" font-size="11.6" text-anchor="start" fill="#111" font-weight="bold">C</text>
<g stroke="#222" stroke-width="1">
<line x1="299.3" y1="397.6" x2="299.3" y2="536"/>
<line x1="298.9" y1="536" x2="513.3" y2="536"/>
<line x1="296.3" y1="533.6" x2="299.3" y2="533.6"/>
<line x1="296.3" y1="501.03" x2="299.3" y2="501.03"/>
<line x1="296.3" y1="468.45" x2="299.3" y2="468.45"/>
<line x1="296.3" y1="435.88" x2="299.3" y2="435.88"/>
<line x1="296.3" y1="403.3" x2="299.3" y2="403.3"/>
</g>
<text x="293.3" y="535.6" font-size="6.4" text-anchor="end" fill="#222" textLength="3.39" lengthAdjust="spacingAndGlyphs">0</text>
<text x="293.3" y="503.03" font-size="6.4" text-anchor="end" fill="#222" textLength="6.78" lengthAdjust="spacingAndGlyphs">25</text>
<text x="293.3" y="470.45" font-size="6.4" text-anchor="end" fill="#222" textLength="6.78" lengthAdjust="spacingAndGlyphs">50</text>
<text x="293.3" y="437.88" font-size="6.4" text-anchor="end" fill="#222" textLength="6.78" lengthAdjust="spacingAndGlyphs">75</text>
<text x="293.3" y="405.3" font-size="6.4" text-anchor="end" fill="#222" textLength="10.18" lengthAdjust="spacingAndGlyphs">100</text>
<text transform="translate(278.4,469.1) rotate(-90)" font-size="6.9" text-anchor="middle" fill="#1a1a1a" stroke="#1a1a1a" stroke-width="0.2" textLength="72.8" lengthAdjust="spacingAndGlyphs">Variant allele frequencies (%)</text>
<line x1="313" y1="403.8" x2="313" y2="422.9" stroke="#7a7a7a" stroke-width="0.8"/>
<line x1="313" y1="471.5" x2="313" y2="482.5" stroke="#7a7a7a" stroke-width="0.8"/>
<rect x="304.3" y="422.9" width="17.4" height="48.6" fill="#c8102e"/>
<line x1="304.3" y1="453.7" x2="321.7" y2="453.7" stroke="#2a1a1a" stroke-width="1.4"/>
<line x1="313" y1="536" x2="313" y2="538.8" stroke="#333" stroke-width="0.8"/>
<text x="303.7" y="546.6" font-size="6.4" text-anchor="start" fill="#1a1a1a" font-style="italic" textLength="19.2" lengthAdjust="spacingAndGlyphs" stroke="#1a1a1a" stroke-width="0.12">ZRSR2</text>
<line x1="336.5" y1="403.5" x2="336.5" y2="426.7" stroke="#7a7a7a" stroke-width="0.8"/>
<line x1="336.5" y1="487.7" x2="336.5" y2="525.6" stroke="#7a7a7a" stroke-width="0.8"/>
<rect x="327.8" y="426.7" width="17.4" height="61" fill="#1b4f8e"/>
<line x1="327.8" y1="455.2" x2="345.2" y2="455.2" stroke="#2a1a1a" stroke-width="1.4"/>
<line x1="336.5" y1="536" x2="336.5" y2="538.8" stroke="#333" stroke-width="0.8"/>
<text x="327.3" y="546.6" font-size="6.4" text-anchor="start" fill="#1a1a1a" font-style="italic" textLength="18.7" lengthAdjust="spacingAndGlyphs" stroke="#1a1a1a" stroke-width="0.12">BCOR</text>
<line x1="359.7" y1="411" x2="359.7" y2="424.8" stroke="#7a7a7a" stroke-width="0.8"/>
<line x1="359.7" y1="487.7" x2="359.7" y2="520.3" stroke="#7a7a7a" stroke-width="0.8"/>
<rect x="351" y="424.8" width="17.4" height="62.9" fill="#35a637"/>
<line x1="351" y1="462.7" x2="368.4" y2="462.7" stroke="#2a1a1a" stroke-width="1.4"/>
<line x1="359.7" y1="536" x2="359.7" y2="538.8" stroke="#333" stroke-width="0.8"/>
<text x="349.8" y="546.6" font-size="6.4" text-anchor="start" fill="#1a1a1a" font-style="italic" textLength="19.2" lengthAdjust="spacingAndGlyphs" stroke="#1a1a1a" stroke-width="0.12">STAG2</text>
<line x1="383" y1="456.7" x2="383" y2="471" stroke="#7a7a7a" stroke-width="0.8"/>
<line x1="383" y1="483.8" x2="383" y2="499" stroke="#7a7a7a" stroke-width="0.8"/>
<rect x="374.3" y="471" width="17.4" height="12.8" fill="#5c1f6b"/>
<line x1="374.3" y1="474.4" x2="391.7" y2="474.4" stroke="#2a1a1a" stroke-width="1.4"/>
<circle cx="383" cy="437.2" r="1.15" fill="#111"/>
<circle cx="383" cy="505.2" r="1.15" fill="#111"/>
<circle cx="383" cy="507.9" r="1.15" fill="#111"/>
<circle cx="383" cy="518.7" r="1.15" fill="#111"/>
<circle cx="383" cy="522.7" r="1.15" fill="#111"/>
<circle cx="383" cy="525.4" r="1.15" fill="#111"/>
<circle cx="383" cy="527.5" r="1.15" fill="#111"/>
<circle cx="383" cy="529.4" r="1.15" fill="#111"/>
<line x1="383" y1="536" x2="383" y2="538.8" stroke="#333" stroke-width="0.8"/>
<text x="373.5" y="546.6" font-size="6.4" text-anchor="start" fill="#1a1a1a" font-style="italic" textLength="17.7" lengthAdjust="spacingAndGlyphs" stroke="#1a1a1a" stroke-width="0.12">SRSF2</text>
<line x1="406.3" y1="443.3" x2="406.3" y2="460.9" stroke="#7a7a7a" stroke-width="0.8"/>
<line x1="406.3" y1="479.3" x2="406.3" y2="503.3" stroke="#7a7a7a" stroke-width="0.8"/>
<rect x="397.6" y="460.9" width="17.4" height="18.4" fill="#f39200"/>
<line x1="397.6" y1="475" x2="415" y2="475" stroke="#2a1a1a" stroke-width="1.4"/>
<circle cx="406.3" cy="415" r="1.15" fill="#111"/>
<circle cx="406.3" cy="416.9" r="1.15" fill="#111"/>
<circle cx="406.3" cy="431.7" r="1.15" fill="#111"/>
<circle cx="406.3" cy="515.2" r="1.15" fill="#111"/>
<circle cx="406.3" cy="519.5" r="1.15" fill="#111"/>
<line x1="406.3" y1="536" x2="406.3" y2="538.8" stroke="#333" stroke-width="0.8"/>
<text x="397.3" y="546.6" font-size="6.4" text-anchor="start" fill="#1a1a1a" font-style="italic" textLength="17.7" lengthAdjust="spacingAndGlyphs" stroke="#1a1a1a" stroke-width="0.12">EZH2</text>
<line x1="429.6" y1="464.3" x2="429.6" y2="472.4" stroke="#7a7a7a" stroke-width="0.8"/>
<line x1="429.6" y1="492.1" x2="429.6" y2="516" stroke="#7a7a7a" stroke-width="0.8"/>
<rect x="420.9" y="472.4" width="17.4" height="19.7" fill="#fcc11b"/>
<line x1="420.9" y1="477.5" x2="438.3" y2="477.5" stroke="#2a1a1a" stroke-width="1.4"/>
<circle cx="429.6" cy="524.6" r="1.15" fill="#111"/>
<line x1="429.6" y1="536" x2="429.6" y2="538.8" stroke="#333" stroke-width="0.8"/>
<text x="420.5" y="546.6" font-size="6.4" text-anchor="start" fill="#1a1a1a" font-style="italic" textLength="17.7" lengthAdjust="spacingAndGlyphs" stroke="#1a1a1a" stroke-width="0.12">SF3B1</text>
<line x1="452.8" y1="430.6" x2="452.8" y2="469.8" stroke="#7a7a7a" stroke-width="0.8"/>
<line x1="452.8" y1="495.2" x2="452.8" y2="528" stroke="#7a7a7a" stroke-width="0.8"/>
<rect x="444.1" y="469.8" width="17.4" height="25.4" fill="#c0661e"/>
<line x1="444.1" y1="480.2" x2="461.5" y2="480.2" stroke="#2a1a1a" stroke-width="1.4"/>
<circle cx="452.8" cy="414.5" r="1.15" fill="#111"/>
<circle cx="452.8" cy="416.3" r="1.15" fill="#111"/>
<circle cx="452.8" cy="420.4" r="1.15" fill="#111"/>
<circle cx="452.8" cy="424.4" r="1.15" fill="#111"/>
<line x1="452.8" y1="536" x2="452.8" y2="538.8" stroke="#333" stroke-width="0.8"/>
<text x="443.7" y="546.6" font-size="6.4" text-anchor="start" fill="#1a1a1a" font-style="italic" textLength="17.8" lengthAdjust="spacingAndGlyphs" stroke="#1a1a1a" stroke-width="0.12">RUNX1</text>
<line x1="476.2" y1="469.7" x2="476.2" y2="474.9" stroke="#7a7a7a" stroke-width="0.8"/>
<line x1="476.2" y1="493" x2="476.2" y2="514.4" stroke="#7a7a7a" stroke-width="0.8"/>
<rect x="467.5" y="474.9" width="17.4" height="18.1" fill="#e5137f"/>
<line x1="467.5" y1="481.6" x2="484.9" y2="481.6" stroke="#2a1a1a" stroke-width="1.4"/>
<line x1="476.2" y1="536" x2="476.2" y2="538.8" stroke="#333" stroke-width="0.8"/>
<text x="467" y="546.6" font-size="6.4" text-anchor="start" fill="#1a1a1a" font-style="italic" textLength="18.3" lengthAdjust="spacingAndGlyphs" stroke="#1a1a1a" stroke-width="0.12">U2AF1</text>
<line x1="499.5" y1="457.5" x2="499.5" y2="477.5" stroke="#7a7a7a" stroke-width="0.8"/>
<line x1="499.5" y1="491.9" x2="499.5" y2="511.5" stroke="#7a7a7a" stroke-width="0.8"/>
<rect x="490.8" y="477.5" width="17.4" height="14.4" fill="#cfcfcf"/>
<line x1="490.8" y1="485.7" x2="508.2" y2="485.7" stroke="#2a1a1a" stroke-width="1.4"/>
<circle cx="499.5" cy="515.4" r="1.15" fill="#111"/>
<circle cx="499.5" cy="520.2" r="1.15" fill="#111"/>
<circle cx="499.5" cy="525" r="1.15" fill="#111"/>
<circle cx="499.5" cy="526.9" r="1.15" fill="#111"/>
<circle cx="499.5" cy="528.8" r="1.15" fill="#111"/>
<line x1="499.5" y1="536" x2="499.5" y2="538.8" stroke="#333" stroke-width="0.8"/>
<text x="490.7" y="546.6" font-size="6.4" text-anchor="start" fill="#1a1a1a" font-style="italic" textLength="17.8" lengthAdjust="spacingAndGlyphs" stroke="#1a1a1a" stroke-width="0.12">ASXL1</text>
<rect x="0.5" y="0.5" width="519" height="641" fill="none" stroke="#555" stroke-width="1"/>
</svg></body></html>
